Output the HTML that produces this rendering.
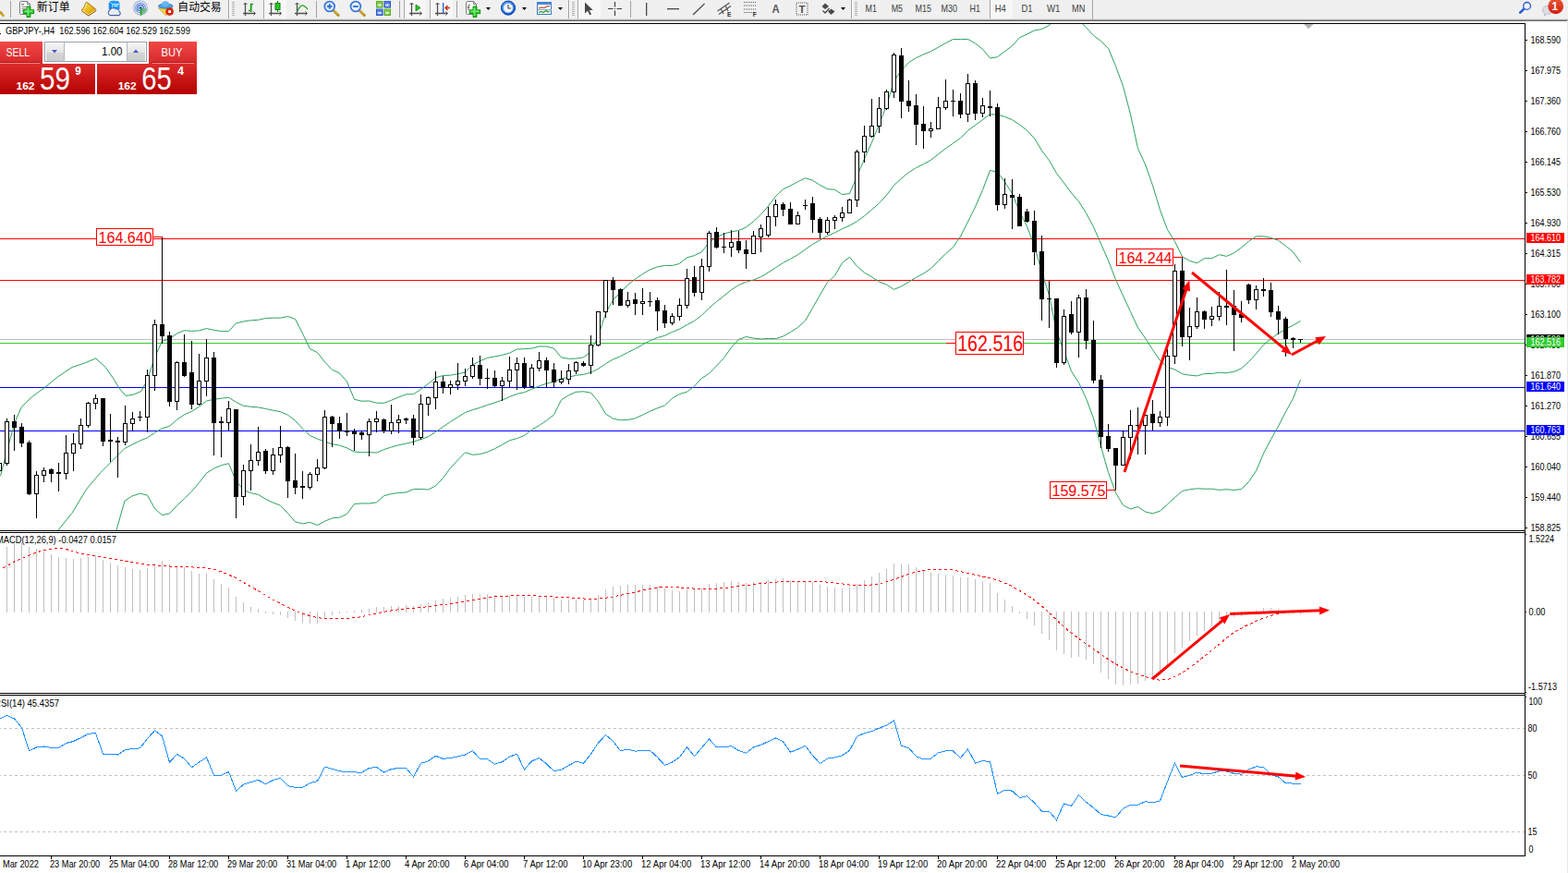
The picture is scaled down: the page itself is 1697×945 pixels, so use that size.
<!DOCTYPE html>
<html><head><meta charset="utf-8"><title>GBPJPY H4</title>
<style>html,body{margin:0;padding:0;background:#fff;overflow:hidden}svg{display:block}text{font-family:"Liberation Sans",sans-serif;white-space:pre}</style>
</head><body>
<svg width="1697" height="945" viewBox="0 0 1697 945">
<defs>
<linearGradient id="gSell" x1="0" y1="0" x2="0" y2="1"><stop offset="0" stop-color="#f04848"/><stop offset="1" stop-color="#d62828"/></linearGradient>
<linearGradient id="gPrice" x1="0" y1="0" x2="0" y2="1"><stop offset="0" stop-color="#dc2c2c"/><stop offset="1" stop-color="#b40000"/></linearGradient>
<linearGradient id="gBtn" x1="0" y1="0" x2="0" y2="1"><stop offset="0" stop-color="#f4f4f4"/><stop offset="0.5" stop-color="#e4e4e4"/><stop offset="0.5" stop-color="#d4d4d4"/><stop offset="1" stop-color="#cfcfcf"/></linearGradient>
<linearGradient id="gBadge" x1="0" y1="0" x2="0" y2="1"><stop offset="0" stop-color="#e8583a"/><stop offset="1" stop-color="#d41c10"/></linearGradient>
<linearGradient id="gGold" x1="0" y1="0" x2="1" y2="1"><stop offset="0" stop-color="#fae670"/><stop offset="0.5" stop-color="#ecbc1c"/><stop offset="1" stop-color="#c08a10"/></linearGradient>
<radialGradient id="gClock" cx="0.4" cy="0.35" r="0.7"><stop offset="0" stop-color="#6ab4ff"/><stop offset="1" stop-color="#0a50c0"/></radialGradient>
</defs>
<rect x="0" y="0" width="1697" height="20" fill="#f0f0f0" />
<rect x="0" y="20" width="1697" height="1" fill="#e3e3e3"/>
<rect x="0" y="21" width="1697" height="1" fill="#a0a0a0"/>
<rect x="0" y="22" width="1697" height="1" fill="#696969"/>
<polygon points="0,12 1.5,12 5,17 3.5,18.5 0,15" fill="#c8a020"/>
<rect x="11" y="1" width="1" height="18" fill="#a0a0a0"/>
<path d="M22.5,1.5 h7 l3,3 v10 a1,1 0 0 1 -1,1 h-9 a1,1 0 0 1 -1,-1 v-12 a1,1 0 0 1 1,-1z" fill="#fff" stroke="#7c7c7c" stroke-width="1"/>
<path d="M29.5,1.5 v3 h3" fill="none" stroke="#7c7c7c" stroke-width="1"/>
<rect x="23" y="4" width="3" height="1.6" fill="#8c8c8c" />
<line x1="23.5" y1="7.5" x2="28.5" y2="7.5" stroke="#8c8c8c" stroke-width="1"/>
<line x1="23.5" y1="9.5" x2="28.5" y2="9.5" stroke="#8c8c8c" stroke-width="1"/>
<line x1="23.5" y1="11.5" x2="28.5" y2="11.5" stroke="#8c8c8c" stroke-width="1"/>
<path d="M29.03333333333333,7 h3.8333333333333335 v3.8333333333333335 h3.8333333333333335 v3.8333333333333335 h-3.8333333333333335 v3.8333333333333335 h-3.8333333333333335 v-3.8333333333333335 h-3.8333333333333335 v-3.8333333333333335 h3.8333333333333335z" fill="#2fd02f" stroke="#0f8f0f" stroke-width="1"/>
<path d="M30.23333333333333,8.5 v8.5 M26.7,12.033333333333333 h8.5" stroke="#7cf07c" stroke-width="1.2" fill="none"/>
<text x="39.7" y="11.9" font-size="12" fill="#000" textLength="36" lengthAdjust="spacingAndGlyphs" style="font-family:'Liberation Sans','Noto Sans CJK SC',sans-serif">新订单</text>
<path d="M93.6,2.2 L103.4,9.8 L103.9,11.4 L95.8,16.8 L88.1,10.8 Q91.6,8.4 91.8,6.2 Q92,4 93.6,2.2z" fill="url(#gGold)" stroke="#a86c10" stroke-width="1" stroke-linejoin="round"/>
<path d="M88.6,11.2 L95.8,16.2 L103.6,11" fill="none" stroke="#f6e49a" stroke-width="1.1"/>
<path d="M88.1,11.6 L95.8,17.1 L104,11.6" fill="none" stroke="#9a600c" stroke-width="1"/>
<path d="M93.8,3.4 Q92.6,5 92.6,6.6 Q92.4,8.6 90.2,10.4" stroke="#fff6b8" stroke-width="0.9" fill="none"/>
<path d="M118.2,2.2 L121.5,1.2 L127.8,1.5 L129,3.2 V10 H118.2z" fill="#18a0ff" stroke="#1080e8" stroke-width="0.8"/>
<path d="M118.2,2.2 L121.6,4.6 H129 M121.6,4.6 V10" fill="none" stroke="#d4efff" stroke-width="1"/>
<path d="M118.6,2.8 L121.2,4.8 V10 H118.6z" fill="#0c8cf0"/>
<rect x="123.3" y="5.8" width="4.4" height="1.1" fill="#f0f8ff" />
<path d="M119.4,16.6 a3,3 0 0 1 -0.6,-5.6 a3.3,3.3 0 0 1 6,-0.7 a2.7,2.7 0 0 1 3.8,1.7 a2.6,2.6 0 0 1 0.4,4.6z" fill="#e8ecf4" stroke="#44619f" stroke-width="1.1"/>
<path d="M119.4,12.8 a2.4,2.4 0 0 1 2,-1.6 a2.8,2.8 0 0 1 4.4,-0.2 a2.2,2.2 0 0 1 2.6,1.2" fill="none" stroke="#ffffff" stroke-width="1"/>
<circle cx="152" cy="8.6" r="7.5" fill="none" stroke="#6a8fd8" stroke-width="1.3" opacity="0.55"/>
<circle cx="152" cy="8.6" r="5.3" fill="none" stroke="#4a74d0" stroke-width="1.3" opacity="0.75"/>
<circle cx="152" cy="8.6" r="3.2" fill="none" stroke="#3060c8" stroke-width="1.3" opacity="0.9"/>
<path d="M152,8.6 L152,16.3 A7.7,7.7 0 0 0 159.6,9.5 z" fill="#58b858" opacity="0.55"/>
<circle cx="152" cy="8.6" r="1.6" fill="#2050c8"/>
<line x1="152.6" y1="9" x2="152.6" y2="16.5" stroke="#22a022" stroke-width="1.6"/>
<polygon points="171.5,8.8 187,8 179.5,16.8" fill="#f6d040" stroke="#c8a018" stroke-width="0.8"/>
<ellipse cx="179.2" cy="6.6" rx="7.8" ry="2.6" fill="#4aa0e0" stroke="#2c78c0" stroke-width="0.8"/>
<ellipse cx="179" cy="4.2" rx="3.8" ry="3" fill="#68b4ee"/>
<circle cx="183.6" cy="12.6" r="4" fill="#e02810" stroke="#b81808" stroke-width="0.6"/>
<rect x="182.2" y="11.2" width="2.8" height="2.8" fill="#fff" />
<text x="192.3" y="11.9" font-size="12" fill="#000" textLength="47.4" lengthAdjust="spacingAndGlyphs" style="font-family:'Liberation Sans','Noto Sans CJK SC',sans-serif">自动交易</text>
<rect x="247" y="0" width="1" height="20" fill="#a0a0a0"/>
<rect x="248" y="0" width="1" height="20" fill="#fff"/>
<rect x="251" y="2" width="3" height="1" fill="#b4b4b4" />
<rect x="251" y="4" width="3" height="1" fill="#b4b4b4" />
<rect x="251" y="6" width="3" height="1" fill="#b4b4b4" />
<rect x="251" y="8" width="3" height="1" fill="#b4b4b4" />
<rect x="251" y="10" width="3" height="1" fill="#b4b4b4" />
<rect x="251" y="12" width="3" height="1" fill="#b4b4b4" />
<rect x="251" y="14" width="3" height="1" fill="#b4b4b4" />
<rect x="251" y="16" width="3" height="1" fill="#b4b4b4" />
<path d="M265.5,3 v14 M263,14.5 h13" stroke="#505050" stroke-width="1.3" fill="none"/>
<path d="M263.5,5 l2,-2 l2,2 M274.5,12.5 l2,2 l-2,2" stroke="#505050" stroke-width="1" fill="none"/>
<path d="M269,11.5 h2.5 v-7 h2.5" stroke="#18a018" stroke-width="1.5" fill="none"/>
<rect x="271" y="4" width="1.5" height="9" fill="#18a018"/>
<rect x="285" y="0" width="1" height="20" fill="#a0a0a0"/>
<rect x="286" y="0" width="24" height="20" fill="#f7f7f7" />
<rect x="285" y="0" width="1" height="20" fill="#a8a8a8"/>
<path d="M293.5,3 v14 M291,14.5 h13" stroke="#505050" stroke-width="1.3" fill="none"/>
<path d="M291.5,5 l2,-2 l2,2 M302.5,12.5 l2,2 l-2,2" stroke="#505050" stroke-width="1" fill="none"/>
<rect x="300" y="1" width="1" height="12" fill="#108010"/>
<rect x="298" y="3.5" width="5" height="7" fill="#28c828" stroke="#108010" />
<path d="M321.5,3 v14 M319,14.5 h13" stroke="#505050" stroke-width="1.3" fill="none"/>
<path d="M319.5,5 l2,-2 l2,2 M330.5,12.5 l2,2 l-2,2" stroke="#505050" stroke-width="1" fill="none"/>
<path d="M322,12 q3,-7 6,-6 t5,4" stroke="#18a018" stroke-width="1.3" fill="none"/>
<rect x="342" y="1" width="1" height="18" fill="#a0a0a0"/>
<line x1="360.7" y1="11" x2="366.2" y2="16.5" stroke="#b89020" stroke-width="3" stroke-linecap="round"/>
<line x1="360.9" y1="10.6" x2="365.7" y2="15.4" stroke="#f0d060" stroke-width="1"/>
<circle cx="356.7" cy="7" r="5.4" fill="#e8f2ff" stroke="#3c78d8" stroke-width="1.8"/>
<line x1="353.9" y1="7" x2="359.5" y2="7" stroke="#2c68d0" stroke-width="1.8"/>
<line x1="356.7" y1="4.2" x2="356.7" y2="9.8" stroke="#2c68d0" stroke-width="1.8"/>
<line x1="388.9" y1="11" x2="394.4" y2="16.5" stroke="#b89020" stroke-width="3" stroke-linecap="round"/>
<line x1="389.09999999999997" y1="10.6" x2="393.9" y2="15.4" stroke="#f0d060" stroke-width="1"/>
<circle cx="384.9" cy="7" r="5.4" fill="#e8f2ff" stroke="#3c78d8" stroke-width="1.8"/>
<line x1="382.09999999999997" y1="7" x2="387.7" y2="7" stroke="#2c68d0" stroke-width="1.8"/>
<rect x="407" y="1" width="7.5" height="7.5" fill="#58b020" />
<rect x="408.5" y="4.2" width="4.5" height="2.6" fill="#fff" />
<rect x="408" y="2" width="5.5" height="1.2" fill="#90d860" />
<rect x="409.3" y="5" width="1" height="1" fill="#58b020" />
<rect x="411.3" y="5" width="1" height="1" fill="#58b020" />
<rect x="415.5" y="1" width="7.5" height="7.5" fill="#2858d0" />
<rect x="417.0" y="4.2" width="4.5" height="2.6" fill="#fff" />
<rect x="416.5" y="2" width="5.5" height="1.2" fill="#6890f0" />
<rect x="417.8" y="5" width="1" height="1" fill="#2858d0" />
<rect x="419.8" y="5" width="1" height="1" fill="#2858d0" />
<rect x="407" y="9.5" width="7.5" height="7.5" fill="#2858d0" />
<rect x="408.5" y="12.7" width="4.5" height="2.6" fill="#fff" />
<rect x="408" y="10.5" width="5.5" height="1.2" fill="#6890f0" />
<rect x="409.3" y="13.5" width="1" height="1" fill="#2858d0" />
<rect x="411.3" y="13.5" width="1" height="1" fill="#2858d0" />
<rect x="415.5" y="9.5" width="7.5" height="7.5" fill="#58b020" />
<rect x="417.0" y="12.7" width="4.5" height="2.6" fill="#fff" />
<rect x="416.5" y="10.5" width="5.5" height="1.2" fill="#90d860" />
<rect x="417.8" y="13.5" width="1" height="1" fill="#58b020" />
<rect x="419.8" y="13.5" width="1" height="1" fill="#58b020" />
<rect x="432" y="1" width="1" height="18" fill="#a0a0a0"/>
<rect x="438" y="0" width="23" height="20" fill="#f7f7f7" />
<rect x="437" y="0" width="1" height="20" fill="#a8a8a8"/>
<path d="M445.5,3 v14 M443,14.5 h13" stroke="#505050" stroke-width="1.3" fill="none"/>
<path d="M443.5,5 l2,-2 l2,2 M454.5,12.5 l2,2 l-2,2" stroke="#505050" stroke-width="1" fill="none"/>
<polygon points="450,5 450,12 455,8.5" fill="#30c030" stroke="#108010" stroke-width="0.8"/>
<rect x="466" y="0" width="24" height="20" fill="#f7f7f7" />
<rect x="465" y="0" width="1" height="20" fill="#a8a8a8"/>
<path d="M473.5,3 v14 M471,14.5 h13" stroke="#505050" stroke-width="1.3" fill="none"/>
<path d="M471.5,5 l2,-2 l2,2 M482.5,12.5 l2,2 l-2,2" stroke="#505050" stroke-width="1" fill="none"/>
<rect x="479" y="3" width="1.3" height="12" fill="#2060c0"/>
<path d="M487,8.5 h-5 M484.5,6 l-2.5,2.5 l2.5,2.5" stroke="#d03010" stroke-width="1.4" fill="none"/>
<rect x="494" y="1" width="1" height="18" fill="#a0a0a0"/>
<path d="M505.5,1.5 h7 l3,3 v10 a1,1 0 0 1 -1,1 h-9 a1,1 0 0 1 -1,-1 v-12 a1,1 0 0 1 1,-1z" fill="#fff" stroke="#7c7c7c" stroke-width="1"/>
<path d="M512.5,1.5 v3 h3" fill="none" stroke="#7c7c7c" stroke-width="1"/>
<path d="M509,5 q-2,0 -2,2 v4 M505.5,8 h3" stroke="#606060" stroke-width="1" fill="none"/>
<path d="M512.0333333333333,7 h3.8333333333333335 v3.8333333333333335 h3.8333333333333335 v3.8333333333333335 h-3.8333333333333335 v3.8333333333333335 h-3.8333333333333335 v-3.8333333333333335 h-3.8333333333333335 v-3.8333333333333335 h3.8333333333333335z" fill="#2fd02f" stroke="#0f8f0f" stroke-width="1"/>
<path d="M513.2333333333333,8.5 v8.5 M509.7,12.033333333333333 h8.5" stroke="#7cf07c" stroke-width="1.2" fill="none"/>
<polygon points="526,8 531,8 528.5,11" fill="#000"/>
<circle cx="550" cy="8.6" r="7.6" fill="url(#gClock)" stroke="#0a48b0" stroke-width="1"/>
<circle cx="550" cy="8.6" r="5.2" fill="#f4f8ff" stroke="#88b0e8" stroke-width="0.8"/>
<path d="M550,5 v4 h3" stroke="#404040" stroke-width="1.1" fill="none"/>
<polygon points="565,8 570,8 567.5,11" fill="#000"/>
<rect x="581.5" y="2.5" width="15" height="13" fill="#f8fbff" stroke="#3c78c8" />
<rect x="581.5" y="2.5" width="15" height="2.5" fill="#4a88d8" />
<path d="M583,9 l3,-1 l3,0.5 l3,-1.5 l3,-0.5" stroke="#c03818" stroke-width="1.2" fill="none"/>
<path d="M583,13.5 l3,-1 l2,1 l3,-2 l2,1.5 l2,-1" stroke="#20a020" stroke-width="1.2" fill="none"/>
<rect x="582" y="10" width="15" height="1" fill="#88a8d8"/>
<polygon points="604,8 609,8 606.5,11" fill="#000"/>
<rect x="615" y="0" width="1" height="20" fill="#a0a0a0"/>
<rect x="616" y="0" width="1" height="20" fill="#fff"/>
<rect x="619" y="2" width="3" height="1" fill="#b4b4b4" />
<rect x="619" y="4" width="3" height="1" fill="#b4b4b4" />
<rect x="619" y="6" width="3" height="1" fill="#b4b4b4" />
<rect x="619" y="8" width="3" height="1" fill="#b4b4b4" />
<rect x="619" y="10" width="3" height="1" fill="#b4b4b4" />
<rect x="619" y="12" width="3" height="1" fill="#b4b4b4" />
<rect x="619" y="14" width="3" height="1" fill="#b4b4b4" />
<rect x="619" y="16" width="3" height="1" fill="#b4b4b4" />
<rect x="626" y="0" width="24" height="20" fill="#f7f7f7" />
<rect x="625" y="0" width="1" height="20" fill="#a8a8a8"/>
<path d="M633,2.5 v12 l3,-2.8 l2.3,4.6 l1.8,-0.9 l-2.3,-4.5 h4z" fill="#484848"/>
<path d="M665.5,2 v5.5 M665.5,11.5 v5.5 M658,9.5 h5.5 M667.5,9.5 h5.5" stroke="#404040" stroke-width="1.2" fill="none"/>
<rect x="665" y="9" width="1" height="1" fill="#404040" />
<rect x="682" y="1" width="1" height="18" fill="#a0a0a0"/>
<rect x="699" y="3" width="1.3" height="14" fill="#484848"/>
<rect x="722" y="9" width="13" height="1.3" fill="#484848"/>
<line x1="750" y1="16" x2="762.5" y2="4" stroke="#505050" stroke-width="1.3"/>
<path d="M776.5,12 l13,-9 M778,15.5 l13,-9 M780,9 l3,6 M785,6 l3,6" stroke="#505050" stroke-width="1.1" fill="none"/>
<text x="787" y="18" font-size="6.5" fill="#303030" font-weight="bold" >E</text>
<line x1="805" y1="2.5" x2="818.5" y2="2.5" stroke="#505050" stroke-width="1" stroke-dasharray="1,1"/>
<line x1="805" y1="6.0" x2="818.5" y2="6.0" stroke="#505050" stroke-width="1" stroke-dasharray="1,1"/>
<line x1="805" y1="10.0" x2="818.5" y2="10.0" stroke="#505050" stroke-width="1" stroke-dasharray="1,1"/>
<line x1="805" y1="13.5" x2="818.5" y2="13.5" stroke="#505050" stroke-width="1" stroke-dasharray="1,1"/>
<text x="814.8" y="18" font-size="6.5" fill="#303030" font-weight="bold" >F</text>
<text x="835.5" y="13.6" font-size="12" fill="#585858" textLength="8.2" lengthAdjust="spacingAndGlyphs" font-weight="bold" >A</text>
<rect x="862" y="3" width="12" height="13" fill="none" stroke="#505050" stroke-width="1" stroke-dasharray="1,1"/>
<text x="864.5" y="13.5" font-size="10.5" fill="#505050" textLength="7" lengthAdjust="spacingAndGlyphs" font-weight="bold" >T</text>
<polygon points="893,3.5 897,7 893,10 889.5,7" fill="#484848"/><polygon points="899.5,9.5 903.5,12.5 899.5,16 896,12.5" fill="#484848"/>
<path d="M890.5,11.5 l2.5,2.5 l4.5,-5" stroke="#484848" stroke-width="1.3" fill="none"/>
<polygon points="910,8 915,8 912.5,11" fill="#000"/>
<rect x="921" y="0" width="1" height="20" fill="#a0a0a0"/>
<rect x="922" y="0" width="1" height="20" fill="#fff"/>
<rect x="925" y="2" width="3" height="1" fill="#b4b4b4" />
<rect x="925" y="4" width="3" height="1" fill="#b4b4b4" />
<rect x="925" y="6" width="3" height="1" fill="#b4b4b4" />
<rect x="925" y="8" width="3" height="1" fill="#b4b4b4" />
<rect x="925" y="10" width="3" height="1" fill="#b4b4b4" />
<rect x="925" y="12" width="3" height="1" fill="#b4b4b4" />
<rect x="925" y="14" width="3" height="1" fill="#b4b4b4" />
<rect x="925" y="16" width="3" height="1" fill="#b4b4b4" />
<rect x="1072" y="0" width="24" height="20" fill="#f7f7f7" />
<rect x="1071" y="0" width="1" height="20" fill="#a8a8a8"/>
<text x="936.6" y="13" font-size="10.2" fill="#404040" textLength="12.4" lengthAdjust="spacingAndGlyphs">M1</text>
<text x="964.7" y="13" font-size="10.2" fill="#404040" textLength="12.4" lengthAdjust="spacingAndGlyphs">M5</text>
<text x="990.5" y="13" font-size="10.2" fill="#404040" textLength="17.5" lengthAdjust="spacingAndGlyphs">M15</text>
<text x="1018.6" y="13" font-size="10.2" fill="#404040" textLength="17.5" lengthAdjust="spacingAndGlyphs">M30</text>
<text x="1049.5" y="13" font-size="10.2" fill="#404040" textLength="11.5" lengthAdjust="spacingAndGlyphs">H1</text>
<text x="1076.7" y="13" font-size="10.2" fill="#404040" textLength="12" lengthAdjust="spacingAndGlyphs">H4</text>
<text x="1105.5" y="13" font-size="10.2" fill="#404040" textLength="12" lengthAdjust="spacingAndGlyphs">D1</text>
<text x="1133" y="13" font-size="10.2" fill="#404040" textLength="14.4" lengthAdjust="spacingAndGlyphs">W1</text>
<text x="1160" y="13" font-size="10.2" fill="#404040" textLength="14.3" lengthAdjust="spacingAndGlyphs">MN</text>
<rect x="1182" y="0" width="1" height="21" fill="#a0a0a0"/>
<line x1="1649.5" y1="9.5" x2="1645.2" y2="13.6" stroke="#2a5ccc" stroke-width="2.6" stroke-linecap="round"/>
<circle cx="1652.6" cy="6.4" r="3.9" fill="#f4f6ff" stroke="#2456d0" stroke-width="1.3"/>
<path d="M1669.5,10 a5.5,4.5 0 1 1 4,5.2 l-2,2.3 l0.3,-2.8 a5,4 0 0 1 -2.3,-4.7z" fill="#dcdce6" stroke="#b4b4c0" stroke-width="0.8"/>
<circle cx="1683.7" cy="6.8" r="8.4" fill="url(#gBadge)"/>
<text x="1679.6" y="11" font-size="12.5" fill="#fff" textLength="6.5" lengthAdjust="spacingAndGlyphs" font-weight="bold" >1</text>
<rect x="0" y="45" width="46" height="24" fill="url(#gSell)" />
<rect x="161" y="45" width="52" height="24" fill="url(#gSell)" />
<rect x="0" y="69" width="103" height="33" fill="url(#gPrice)" />
<rect x="105" y="69" width="108" height="33" fill="url(#gPrice)" />
<rect x="0" y="68" width="43" height="1" fill="#f08080"/>
<rect x="0" y="67" width="43" height="1" fill="#b81818"/>
<rect x="165" y="68" width="45" height="1" fill="#f08080"/>
<rect x="165" y="67" width="45" height="1" fill="#b81818"/>
<rect x="46" y="45" width="115" height="24" fill="#fff" />
<rect x="48.5" y="45.5" width="110" height="21" fill="#fff" stroke="#9aa0ac" stroke-width="1"/>
<rect x="50" y="47" width="19" height="19" fill="url(#gBtn)" />
<rect x="69" y="46" width="1" height="21" fill="#b4b8c0"/>
<rect x="138" y="47" width="19" height="19" fill="url(#gBtn)" />
<rect x="137" y="46" width="1" height="21" fill="#b4b8c0"/>
<polygon points="56,54 62,54 59,57.5" fill="#4858c8"/>
<polygon points="144,57 150,57 147,53.5" fill="#4858c8"/>
<text x="110" y="60" font-size="12.5" fill="#000" textLength="22.5" lengthAdjust="spacingAndGlyphs" >1.00</text>
<text x="6.5" y="61" font-size="12" fill="#fff" textLength="25.5" lengthAdjust="spacingAndGlyphs" >SELL</text>
<text x="174.5" y="61" font-size="12" fill="#fff" textLength="23" lengthAdjust="spacingAndGlyphs" >BUY</text>
<text x="17.5" y="96.5" font-size="11.5" fill="#fff" textLength="20" lengthAdjust="spacingAndGlyphs" font-weight="bold" >162</text>
<text x="43" y="97" font-size="35" fill="#fff" textLength="33" lengthAdjust="spacingAndGlyphs" >59</text>
<text x="81.3" y="81" font-size="12" fill="#fff" textLength="6.5" lengthAdjust="spacingAndGlyphs" font-weight="bold" >9</text>
<text x="127.7" y="96.5" font-size="11.5" fill="#fff" textLength="20" lengthAdjust="spacingAndGlyphs" font-weight="bold" >162</text>
<text x="153.3" y="97" font-size="35" fill="#fff" textLength="32.5" lengthAdjust="spacingAndGlyphs" >65</text>
<text x="192" y="81" font-size="12" fill="#fff" textLength="7" lengthAdjust="spacingAndGlyphs" font-weight="bold" >4</text>
<rect x="1696" y="22" width="1" height="923" fill="#e8e8e8"/>
<clipPath id="cMain"><rect x="0" y="26" width="1650" height="548"/></clipPath>
<clipPath id="cMacd"><rect x="0" y="577" width="1650" height="173"/></clipPath>
<clipPath id="cRsi"><rect x="0" y="753" width="1650" height="173"/></clipPath>
<g clip-path="url(#cMain)">
<rect x="0" y="258" width="1650" height="1" fill="#ff0000"/>
<rect x="0" y="303" width="1650" height="1" fill="#ff0000"/>
<rect x="0" y="367" width="1650" height="1" fill="#c0c0c0"/>
<rect x="0" y="371" width="1650" height="1" fill="#32cd32"/>
<rect x="0" y="419" width="1650" height="1" fill="#0000ff"/>
<rect x="0" y="466" width="1650" height="1" fill="#0000ff"/>
<polyline fill="none" stroke="#2aa25c" stroke-width="1" points="0.5,515.2 8.2,485.5 16,457.1 23.5,440.3 34.1,430 48.3,419.5 62.5,408 78,397.5 90.9,393.3 103.8,387.9 114.2,397.5 123.2,410.5 129.5,420.9 136.1,428.5 145.2,426.9 152.9,423.5 159.5,411.3 167.5,386.4 175.5,369.4 183.5,366.6 191.5,361.1 199.5,357.7 207.5,358.4 215.5,357.9 223.5,355.6 231.5,357.4 239.5,358.5 247.5,358.7 255.5,349.9 263.5,348 271.5,346.8 279.5,346.3 287.5,344.5 295.5,344.1 303.5,344.2 311.5,342.5 319.5,345.4 327.5,361 335.5,377.5 343.5,381.6 351.5,391.8 359.5,400.3 367.5,404 375.5,413.2 383.5,432.3 391.5,434.2 399.5,434 407.5,436.2 415.5,436.3 423.5,433.3 431.5,429.9 439.5,426.9 447.5,426.7 455.5,421.4 463.5,415.4 471.5,408.8 479.5,406.5 487.5,406.2 495.5,404.7 503.5,403.1 511.5,394.9 519.5,390.7 527.5,387.4 535.5,385.9 543.5,384.4 551.5,382.1 559.5,378 567.5,377.7 575.5,377.1 583.5,375 591.5,375 599.5,377.2 607.5,386.9 615.5,388.4 623.5,388.1 631.5,386.8 639.5,380.8 647.5,363.5 655.5,339.2 663.5,324.6 671.5,316.5 679.5,308.4 687.5,302 695.5,296.6 703.5,291.9 711.5,288.9 719.5,287.4 727.5,287.5 735.5,285.3 743.5,278.8 751.5,276.6 759.5,272.7 767.5,262 775.5,256.9 783.5,252.9 791.5,251 799.5,249.4 807.5,246 815.5,239.7 823.5,232.1 831.5,223.1 839.5,212.5 847.5,204.8 855.5,201 863.5,196.7 871.5,192.8 879.5,195.2 887.5,200.4 895.5,204.7 903.5,205.3 911.5,210.6 919.5,209.6 927.5,190.9 935.5,172 943.5,154.2 951.5,134.5 959.5,114.4 967.5,87.5 975.5,76.4 983.5,67.7 991.5,62.7 999.5,58.9 1007.5,55.6 1015.5,51.2 1023.5,46.6 1031.5,42.5 1039.5,42.6 1047.5,42.4 1055.5,46.9 1063.5,53.2 1071.5,63 1079.5,61.7 1087.5,55.5 1095.5,49.6 1103.5,40.7 1111.5,37 1119.5,33 1127.5,31.5 1135.5,27.4 1143.5,16 1151.5,15.7 1159.5,15.8 1167.5,21.7 1175.5,29.8 1183.5,38.4 1191.5,44.4 1199.5,52.4 1207.5,71.6 1215.5,93.4 1223.5,123.8 1231.5,160.6 1239.5,178 1247.5,200.8 1255.5,227.3 1263.5,248.7 1271.5,261.4 1279.5,277.7 1287.5,282.4 1295.5,284.8 1303.5,279.7 1311.5,279.7 1319.5,275.7 1327.5,277.4 1335.5,273.8 1343.5,268 1351.5,261.2 1359.5,255.8 1367.5,255.8 1375.5,257.4 1383.5,260.2 1391.5,266.3 1399.5,272.7 1407.5,283.9"/>
<polyline fill="none" stroke="#2aa25c" stroke-width="1" points="62.5,574.5 78,555.3 93.5,529.5 109,511.4 121.9,498.5 134.9,485.5 150.5,477.5 159.5,473.8 167.5,468.5 175.5,463.6 183.5,461.3 191.5,454.3 199.5,448.9 207.5,445.3 215.5,440.3 223.5,434 231.5,432.3 239.5,431.2 247.5,430.3 255.5,435.3 263.5,439.3 271.5,440.3 279.5,440.9 287.5,442.5 295.5,444.2 303.5,445.7 311.5,449.2 319.5,455.3 327.5,464.1 335.5,471.5 343.5,475.1 351.5,478.1 359.5,480.7 367.5,482.1 375.5,484.9 383.5,489 391.5,489.7 399.5,489.6 407.5,490.1 415.5,486.6 423.5,484 431.5,481.8 439.5,480.1 447.5,478.3 455.5,475.5 463.5,472.8 471.5,467.5 479.5,462.1 487.5,456.5 495.5,451.5 503.5,446.5 511.5,443.7 519.5,441.3 527.5,438.4 535.5,435.9 543.5,433.1 551.5,429.5 559.5,426.4 567.5,424.7 575.5,421.3 583.5,417.9 591.5,415.2 599.5,413.1 607.5,410 615.5,408.2 623.5,406.3 631.5,405.4 639.5,403.1 647.5,399.2 655.5,393.7 663.5,389 671.5,385.7 679.5,381.5 687.5,377.5 695.5,373 703.5,368.7 711.5,365.5 719.5,363.3 727.5,359.5 735.5,356.1 743.5,351.6 751.5,347.4 759.5,341.2 767.5,333.3 775.5,326.5 783.5,320.3 791.5,313.7 799.5,308.5 807.5,305.3 815.5,303 823.5,299.7 831.5,294.9 839.5,289.7 847.5,284.5 855.5,280.3 863.5,275.7 871.5,270 879.5,264.4 887.5,259.9 895.5,255.3 903.5,251.9 911.5,247.7 919.5,244.1 927.5,239.7 935.5,233.7 943.5,227.1 951.5,219.9 959.5,211.3 967.5,200.5 975.5,193.3 983.5,186.6 991.5,181.6 999.5,177.6 1007.5,173.3 1015.5,166.9 1023.5,160.7 1031.5,155.1 1039.5,149.4 1047.5,141.3 1055.5,135.5 1063.5,129.5 1071.5,123.8 1079.5,124.1 1087.5,126.3 1095.5,129.7 1103.5,135 1111.5,141.1 1119.5,149.8 1127.5,163 1135.5,173.7 1143.5,187.6 1151.5,198 1159.5,208.9 1167.5,218.1 1175.5,230.7 1183.5,245.7 1191.5,263.9 1199.5,282 1207.5,302.7 1215.5,320.2 1223.5,337.5 1231.5,354.7 1239.5,366.1 1247.5,378.5 1255.5,390.3 1263.5,397.4 1271.5,400.1 1279.5,404.7 1287.5,406.2 1295.5,406.9 1303.5,404.5 1311.5,404.5 1319.5,403.2 1327.5,403.7 1335.5,402.3 1343.5,398.9 1351.5,391.5 1359.5,382.9 1367.5,373.4 1375.5,366.6 1383.5,360.9 1391.5,356.2 1399.5,352.1 1407.5,347.5"/>
<polyline fill="none" stroke="#2aa25c" stroke-width="1" points="125.8,574.5 134.9,542.4 142.5,537.2 151.5,534.1 159.5,536.1 167.5,550.5 175.5,557.6 183.5,555.9 191.5,547.2 199.5,539.8 207.5,531.9 215.5,522.4 223.5,512.2 231.5,507.1 239.5,503.7 247.5,501.7 255.5,520.6 263.5,530.3 271.5,533.6 279.5,535.4 287.5,540.3 295.5,544.1 303.5,547.1 311.5,555.7 319.5,564.9 327.5,566.9 335.5,565.4 343.5,568.5 351.5,564.2 359.5,560.9 367.5,560.1 375.5,556.4 383.5,545.5 391.5,544.9 399.5,545 407.5,543.9 415.5,536.7 423.5,534.5 431.5,533.5 439.5,533 447.5,529.6 455.5,529.4 463.5,530 471.5,525.9 479.5,517.4 487.5,506.6 495.5,498 503.5,489.7 511.5,492.3 519.5,491.6 527.5,489.2 535.5,485.7 543.5,481.5 551.5,476.8 559.5,474.6 567.5,471.4 575.5,465.2 583.5,460.6 591.5,455.2 599.5,448.9 607.5,432.9 615.5,427.8 623.5,424.3 631.5,423.8 639.5,425.2 647.5,434.6 655.5,448 663.5,453.2 671.5,454.8 679.5,454.5 687.5,452.8 695.5,449.1 703.5,445.2 711.5,441.8 719.5,438.9 727.5,431.2 735.5,426.6 743.5,424.2 751.5,418 759.5,409.4 767.5,404.3 775.5,396 783.5,387.5 791.5,376.1 799.5,367.4 807.5,364.5 815.5,366 823.5,367 831.5,366.4 839.5,366.6 847.5,364.1 855.5,359.5 863.5,354.5 871.5,347 879.5,333.4 887.5,319.1 895.5,305.6 903.5,298.4 911.5,284.5 919.5,278.3 927.5,288.2 935.5,295.1 943.5,299.8 951.5,305 959.5,308 967.5,313.4 975.5,309.9 983.5,305.3 991.5,300.3 999.5,296.1 1007.5,290.7 1015.5,282.5 1023.5,274.7 1031.5,267.5 1039.5,256 1047.5,240.1 1055.5,224 1063.5,205.6 1071.5,184.4 1079.5,186.2 1087.5,197 1095.5,209.5 1103.5,229.2 1111.5,245.1 1119.5,266.4 1127.5,294.3 1135.5,319.8 1143.5,359 1151.5,380.1 1159.5,401.8 1167.5,414.2 1175.5,431.3 1183.5,452.9 1191.5,483.2 1199.5,511.4 1207.5,533.5 1215.5,546.8 1223.5,551 1231.5,548.6 1239.5,554 1247.5,555.9 1255.5,553.2 1263.5,545.9 1271.5,538.6 1279.5,531.5 1287.5,529.8 1295.5,528.8 1303.5,529.2 1311.5,529.2 1319.5,530.4 1327.5,529.7 1335.5,530.5 1343.5,529.5 1351.5,521.5 1359.5,509.7 1367.5,490.8 1375.5,475.6 1383.5,461.3 1391.5,445.8 1399.5,431.2 1407.5,411"/>
<rect x="-3" y="501" width="5" height="9" fill="#000" />
<rect x="-2" y="502" width="3" height="7" fill="#fff" />
<rect x="7" y="453" width="1" height="51" fill="#000"/>
<rect x="5" y="456" width="5" height="46" fill="#000" />
<rect x="6" y="457" width="3" height="44" fill="#fff" />
<rect x="15" y="449" width="1" height="39" fill="#000"/>
<rect x="13" y="456" width="5" height="7" fill="#000" />
<rect x="23" y="458" width="1" height="26" fill="#000"/>
<rect x="21" y="462" width="5" height="18" fill="#000" />
<rect x="31" y="477" width="1" height="59" fill="#000"/>
<rect x="29" y="479" width="5" height="56" fill="#000" />
<rect x="39" y="510" width="1" height="51" fill="#000"/>
<rect x="37" y="514" width="5" height="21" fill="#000" />
<rect x="38" y="515" width="3" height="19" fill="#fff" />
<rect x="47" y="506" width="1" height="16" fill="#000"/>
<rect x="45" y="509" width="5" height="6" fill="#000" />
<rect x="46" y="510" width="3" height="4" fill="#fff" />
<rect x="55" y="507" width="1" height="15" fill="#000"/>
<rect x="53" y="508" width="5" height="5" fill="#000" />
<rect x="63" y="501" width="1" height="31" fill="#000"/>
<rect x="61" y="511" width="5" height="2" fill="#000" />
<rect x="71" y="471" width="1" height="48" fill="#000"/>
<rect x="69" y="490" width="5" height="23" fill="#000" />
<rect x="70" y="491" width="3" height="21" fill="#fff" />
<rect x="79" y="469" width="1" height="41" fill="#000"/>
<rect x="77" y="480" width="5" height="11" fill="#000" />
<rect x="78" y="481" width="3" height="9" fill="#fff" />
<rect x="87" y="453" width="1" height="33" fill="#000"/>
<rect x="85" y="460" width="5" height="21" fill="#000" />
<rect x="86" y="461" width="3" height="19" fill="#fff" />
<rect x="95" y="435" width="1" height="28" fill="#000"/>
<rect x="93" y="436" width="5" height="25" fill="#000" />
<rect x="94" y="437" width="3" height="23" fill="#fff" />
<rect x="103" y="427" width="1" height="16" fill="#000"/>
<rect x="101" y="431" width="5" height="6" fill="#000" />
<rect x="102" y="432" width="3" height="4" fill="#fff" />
<rect x="111" y="431" width="1" height="52" fill="#000"/>
<rect x="109" y="431" width="5" height="47" fill="#000" />
<rect x="119" y="448" width="1" height="52" fill="#000"/>
<rect x="117" y="476" width="5" height="2" fill="#000" />
<rect x="127" y="473" width="1" height="44" fill="#000"/>
<rect x="125" y="477" width="5" height="2" fill="#000" />
<rect x="135" y="439" width="1" height="43" fill="#000"/>
<rect x="133" y="458" width="5" height="21" fill="#000" />
<rect x="134" y="459" width="3" height="19" fill="#fff" />
<rect x="143" y="446" width="1" height="21" fill="#000"/>
<rect x="141" y="453" width="5" height="6" fill="#000" />
<rect x="142" y="454" width="3" height="4" fill="#fff" />
<rect x="151" y="445" width="1" height="11" fill="#000"/>
<rect x="149" y="451" width="5" height="1" fill="#000" />
<rect x="159" y="400" width="1" height="68" fill="#000"/>
<rect x="157" y="406" width="5" height="46" fill="#000" />
<rect x="158" y="407" width="3" height="44" fill="#fff" />
<rect x="167" y="346" width="1" height="77" fill="#000"/>
<rect x="165" y="351" width="5" height="56" fill="#000" />
<rect x="166" y="352" width="3" height="54" fill="#fff" />
<rect x="175" y="257" width="1" height="115" fill="#000"/>
<rect x="173" y="351" width="5" height="13" fill="#000" />
<rect x="183" y="359" width="1" height="81" fill="#000"/>
<rect x="181" y="363" width="5" height="72" fill="#000" />
<rect x="191" y="391" width="1" height="53" fill="#000"/>
<rect x="189" y="392" width="5" height="43" fill="#000" />
<rect x="190" y="393" width="3" height="41" fill="#fff" />
<rect x="199" y="362" width="1" height="46" fill="#000"/>
<rect x="197" y="392" width="5" height="15" fill="#000" />
<rect x="207" y="369" width="1" height="74" fill="#000"/>
<rect x="205" y="403" width="5" height="35" fill="#000" />
<rect x="215" y="383" width="1" height="56" fill="#000"/>
<rect x="213" y="412" width="5" height="26" fill="#000" />
<rect x="214" y="413" width="3" height="24" fill="#fff" />
<rect x="223" y="367" width="1" height="62" fill="#000"/>
<rect x="221" y="387" width="5" height="26" fill="#000" />
<rect x="222" y="388" width="3" height="24" fill="#fff" />
<rect x="231" y="381" width="1" height="112" fill="#000"/>
<rect x="229" y="387" width="5" height="71" fill="#000" />
<rect x="239" y="451" width="1" height="44" fill="#000"/>
<rect x="237" y="456" width="5" height="2" fill="#000" />
<rect x="247" y="434" width="1" height="32" fill="#000"/>
<rect x="245" y="442" width="5" height="16" fill="#000" />
<rect x="246" y="443" width="3" height="14" fill="#fff" />
<rect x="255" y="443" width="1" height="118" fill="#000"/>
<rect x="253" y="443" width="5" height="95" fill="#000" />
<rect x="263" y="503" width="1" height="44" fill="#000"/>
<rect x="261" y="509" width="5" height="29" fill="#000" />
<rect x="262" y="510" width="3" height="27" fill="#fff" />
<rect x="271" y="481" width="1" height="50" fill="#000"/>
<rect x="269" y="498" width="5" height="12" fill="#000" />
<rect x="270" y="499" width="3" height="10" fill="#fff" />
<rect x="279" y="462" width="1" height="42" fill="#000"/>
<rect x="277" y="489" width="5" height="10" fill="#000" />
<rect x="278" y="490" width="3" height="8" fill="#fff" />
<rect x="287" y="486" width="1" height="27" fill="#000"/>
<rect x="285" y="488" width="5" height="22" fill="#000" />
<rect x="295" y="485" width="1" height="29" fill="#000"/>
<rect x="293" y="492" width="5" height="18" fill="#000" />
<rect x="294" y="493" width="3" height="16" fill="#fff" />
<rect x="303" y="461" width="1" height="40" fill="#000"/>
<rect x="301" y="484" width="5" height="9" fill="#000" />
<rect x="302" y="485" width="3" height="7" fill="#fff" />
<rect x="311" y="483" width="1" height="56" fill="#000"/>
<rect x="309" y="484" width="5" height="37" fill="#000" />
<rect x="319" y="491" width="1" height="44" fill="#000"/>
<rect x="317" y="520" width="5" height="8" fill="#000" />
<rect x="327" y="510" width="1" height="30" fill="#000"/>
<rect x="325" y="526" width="5" height="2" fill="#000" />
<rect x="335" y="511" width="1" height="19" fill="#000"/>
<rect x="333" y="513" width="5" height="15" fill="#000" />
<rect x="334" y="514" width="3" height="13" fill="#fff" />
<rect x="343" y="497" width="1" height="24" fill="#000"/>
<rect x="341" y="506" width="5" height="8" fill="#000" />
<rect x="342" y="507" width="3" height="6" fill="#fff" />
<rect x="351" y="444" width="1" height="64" fill="#000"/>
<rect x="349" y="451" width="5" height="56" fill="#000" />
<rect x="350" y="452" width="3" height="54" fill="#fff" />
<rect x="359" y="450" width="1" height="34" fill="#000"/>
<rect x="357" y="451" width="5" height="8" fill="#000" />
<rect x="367" y="451" width="1" height="24" fill="#000"/>
<rect x="365" y="458" width="5" height="9" fill="#000" />
<rect x="375" y="447" width="1" height="25" fill="#000"/>
<rect x="373" y="466" width="5" height="2" fill="#000" />
<rect x="383" y="464" width="1" height="24" fill="#000"/>
<rect x="381" y="467" width="5" height="3" fill="#000" />
<rect x="391" y="467" width="1" height="9" fill="#000"/>
<rect x="389" y="468" width="5" height="3" fill="#000" />
<rect x="399" y="453" width="1" height="41" fill="#000"/>
<rect x="397" y="456" width="5" height="15" fill="#000" />
<rect x="398" y="457" width="3" height="13" fill="#fff" />
<rect x="407" y="445" width="1" height="23" fill="#000"/>
<rect x="405" y="453" width="5" height="4" fill="#000" />
<rect x="406" y="454" width="3" height="2" fill="#fff" />
<rect x="415" y="453" width="1" height="16" fill="#000"/>
<rect x="413" y="454" width="5" height="13" fill="#000" />
<rect x="423" y="438" width="1" height="32" fill="#000"/>
<rect x="421" y="457" width="5" height="10" fill="#000" />
<rect x="422" y="458" width="3" height="8" fill="#fff" />
<rect x="431" y="449" width="1" height="20" fill="#000"/>
<rect x="429" y="454" width="5" height="4" fill="#000" />
<rect x="430" y="455" width="3" height="2" fill="#fff" />
<rect x="439" y="452" width="1" height="7" fill="#000"/>
<rect x="437" y="453" width="5" height="2" fill="#000" />
<rect x="447" y="449" width="1" height="33" fill="#000"/>
<rect x="445" y="453" width="5" height="21" fill="#000" />
<rect x="455" y="427" width="1" height="49" fill="#000"/>
<rect x="453" y="437" width="5" height="37" fill="#000" />
<rect x="454" y="438" width="3" height="35" fill="#fff" />
<rect x="463" y="429" width="1" height="21" fill="#000"/>
<rect x="461" y="430" width="5" height="8" fill="#000" />
<rect x="462" y="431" width="3" height="6" fill="#fff" />
<rect x="471" y="402" width="1" height="41" fill="#000"/>
<rect x="469" y="413" width="5" height="18" fill="#000" />
<rect x="470" y="414" width="3" height="16" fill="#fff" />
<rect x="479" y="407" width="1" height="19" fill="#000"/>
<rect x="477" y="413" width="5" height="7" fill="#000" />
<rect x="487" y="412" width="1" height="15" fill="#000"/>
<rect x="485" y="416" width="5" height="4" fill="#000" />
<rect x="486" y="417" width="3" height="2" fill="#fff" />
<rect x="495" y="393" width="1" height="29" fill="#000"/>
<rect x="493" y="412" width="5" height="5" fill="#000" />
<rect x="494" y="413" width="3" height="3" fill="#fff" />
<rect x="503" y="399" width="1" height="19" fill="#000"/>
<rect x="501" y="407" width="5" height="6" fill="#000" />
<rect x="502" y="408" width="3" height="4" fill="#fff" />
<rect x="511" y="387" width="1" height="23" fill="#000"/>
<rect x="509" y="395" width="5" height="13" fill="#000" />
<rect x="510" y="396" width="3" height="11" fill="#fff" />
<rect x="519" y="385" width="1" height="32" fill="#000"/>
<rect x="517" y="395" width="5" height="15" fill="#000" />
<rect x="527" y="399" width="1" height="22" fill="#000"/>
<rect x="525" y="409" width="5" height="1" fill="#000" />
<rect x="535" y="401" width="1" height="18" fill="#000"/>
<rect x="533" y="409" width="5" height="9" fill="#000" />
<rect x="543" y="408" width="1" height="26" fill="#000"/>
<rect x="541" y="412" width="5" height="6" fill="#000" />
<rect x="542" y="413" width="3" height="4" fill="#fff" />
<rect x="551" y="386" width="1" height="33" fill="#000"/>
<rect x="549" y="400" width="5" height="13" fill="#000" />
<rect x="550" y="401" width="3" height="11" fill="#fff" />
<rect x="559" y="387" width="1" height="35" fill="#000"/>
<rect x="557" y="393" width="5" height="8" fill="#000" />
<rect x="558" y="394" width="3" height="6" fill="#fff" />
<rect x="567" y="387" width="1" height="34" fill="#000"/>
<rect x="565" y="393" width="5" height="26" fill="#000" />
<rect x="575" y="394" width="1" height="25" fill="#000"/>
<rect x="573" y="398" width="5" height="21" fill="#000" />
<rect x="574" y="399" width="3" height="19" fill="#fff" />
<rect x="583" y="381" width="1" height="21" fill="#000"/>
<rect x="581" y="390" width="5" height="9" fill="#000" />
<rect x="582" y="391" width="3" height="7" fill="#fff" />
<rect x="591" y="387" width="1" height="32" fill="#000"/>
<rect x="589" y="390" width="5" height="11" fill="#000" />
<rect x="599" y="393" width="1" height="26" fill="#000"/>
<rect x="597" y="400" width="5" height="14" fill="#000" />
<rect x="607" y="401" width="1" height="15" fill="#000"/>
<rect x="605" y="410" width="5" height="4" fill="#000" />
<rect x="606" y="411" width="3" height="2" fill="#fff" />
<rect x="615" y="394" width="1" height="22" fill="#000"/>
<rect x="613" y="401" width="5" height="10" fill="#000" />
<rect x="614" y="402" width="3" height="8" fill="#fff" />
<rect x="623" y="391" width="1" height="14" fill="#000"/>
<rect x="621" y="392" width="5" height="10" fill="#000" />
<rect x="622" y="393" width="3" height="8" fill="#fff" />
<rect x="631" y="391" width="1" height="6" fill="#000"/>
<rect x="629" y="393" width="5" height="3" fill="#000" />
<rect x="639" y="363" width="1" height="42" fill="#000"/>
<rect x="637" y="373" width="5" height="23" fill="#000" />
<rect x="638" y="374" width="3" height="21" fill="#fff" />
<rect x="647" y="337" width="1" height="38" fill="#000"/>
<rect x="645" y="337" width="5" height="37" fill="#000" />
<rect x="646" y="338" width="3" height="35" fill="#fff" />
<rect x="655" y="303" width="1" height="41" fill="#000"/>
<rect x="653" y="303" width="5" height="35" fill="#000" />
<rect x="654" y="304" width="3" height="33" fill="#fff" />
<rect x="663" y="300" width="1" height="30" fill="#000"/>
<rect x="661" y="303" width="5" height="11" fill="#000" />
<rect x="671" y="312" width="1" height="19" fill="#000"/>
<rect x="669" y="313" width="5" height="18" fill="#000" />
<rect x="679" y="316" width="1" height="17" fill="#000"/>
<rect x="677" y="325" width="5" height="6" fill="#000" />
<rect x="678" y="326" width="3" height="4" fill="#fff" />
<rect x="687" y="317" width="1" height="24" fill="#000"/>
<rect x="685" y="324" width="5" height="5" fill="#000" />
<rect x="695" y="312" width="1" height="29" fill="#000"/>
<rect x="693" y="326" width="5" height="3" fill="#000" />
<rect x="694" y="327" width="3" height="1" fill="#fff" />
<rect x="703" y="316" width="1" height="16" fill="#000"/>
<rect x="701" y="326" width="5" height="1" fill="#000" />
<rect x="711" y="322" width="1" height="36" fill="#000"/>
<rect x="709" y="325" width="5" height="12" fill="#000" />
<rect x="719" y="330" width="1" height="25" fill="#000"/>
<rect x="717" y="336" width="5" height="14" fill="#000" />
<rect x="727" y="339" width="1" height="13" fill="#000"/>
<rect x="725" y="342" width="5" height="8" fill="#000" />
<rect x="726" y="343" width="3" height="6" fill="#fff" />
<rect x="735" y="323" width="1" height="24" fill="#000"/>
<rect x="733" y="330" width="5" height="13" fill="#000" />
<rect x="734" y="331" width="3" height="11" fill="#fff" />
<rect x="743" y="291" width="1" height="43" fill="#000"/>
<rect x="741" y="301" width="5" height="30" fill="#000" />
<rect x="742" y="302" width="3" height="28" fill="#fff" />
<rect x="751" y="288" width="1" height="33" fill="#000"/>
<rect x="749" y="300" width="5" height="17" fill="#000" />
<rect x="759" y="280" width="1" height="45" fill="#000"/>
<rect x="757" y="288" width="5" height="29" fill="#000" />
<rect x="758" y="289" width="3" height="27" fill="#fff" />
<rect x="767" y="250" width="1" height="44" fill="#000"/>
<rect x="765" y="252" width="5" height="37" fill="#000" />
<rect x="766" y="253" width="3" height="35" fill="#fff" />
<rect x="775" y="246" width="1" height="23" fill="#000"/>
<rect x="773" y="251" width="5" height="17" fill="#000" />
<rect x="783" y="252" width="1" height="22" fill="#000"/>
<rect x="781" y="267" width="5" height="1" fill="#000" />
<rect x="791" y="249" width="1" height="29" fill="#000"/>
<rect x="789" y="262" width="5" height="6" fill="#000" />
<rect x="790" y="263" width="3" height="4" fill="#fff" />
<rect x="799" y="250" width="1" height="24" fill="#000"/>
<rect x="797" y="261" width="5" height="10" fill="#000" />
<rect x="807" y="260" width="1" height="31" fill="#000"/>
<rect x="805" y="270" width="5" height="5" fill="#000" />
<rect x="815" y="250" width="1" height="25" fill="#000"/>
<rect x="813" y="255" width="5" height="20" fill="#000" />
<rect x="814" y="256" width="3" height="18" fill="#fff" />
<rect x="823" y="243" width="1" height="30" fill="#000"/>
<rect x="821" y="247" width="5" height="10" fill="#000" />
<rect x="822" y="248" width="3" height="8" fill="#fff" />
<rect x="831" y="224" width="1" height="33" fill="#000"/>
<rect x="829" y="234" width="5" height="21" fill="#000" />
<rect x="830" y="235" width="3" height="19" fill="#fff" />
<rect x="839" y="216" width="1" height="29" fill="#000"/>
<rect x="837" y="221" width="5" height="14" fill="#000" />
<rect x="838" y="222" width="3" height="12" fill="#fff" />
<rect x="847" y="219" width="1" height="15" fill="#000"/>
<rect x="845" y="221" width="5" height="6" fill="#000" />
<rect x="855" y="219" width="1" height="24" fill="#000"/>
<rect x="853" y="226" width="5" height="17" fill="#000" />
<rect x="863" y="229" width="1" height="14" fill="#000"/>
<rect x="861" y="233" width="5" height="10" fill="#000" />
<rect x="862" y="234" width="3" height="8" fill="#fff" />
<rect x="871" y="216" width="1" height="11" fill="#000"/>
<rect x="869" y="222" width="5" height="1" fill="#000" />
<rect x="879" y="213" width="1" height="39" fill="#000"/>
<rect x="877" y="220" width="5" height="18" fill="#000" />
<rect x="887" y="235" width="1" height="23" fill="#000"/>
<rect x="885" y="237" width="5" height="15" fill="#000" />
<rect x="895" y="235" width="1" height="19" fill="#000"/>
<rect x="893" y="238" width="5" height="14" fill="#000" />
<rect x="894" y="239" width="3" height="12" fill="#fff" />
<rect x="903" y="233" width="1" height="15" fill="#000"/>
<rect x="901" y="235" width="5" height="4" fill="#000" />
<rect x="902" y="236" width="3" height="2" fill="#fff" />
<rect x="911" y="224" width="1" height="16" fill="#000"/>
<rect x="909" y="230" width="5" height="6" fill="#000" />
<rect x="910" y="231" width="3" height="4" fill="#fff" />
<rect x="919" y="215" width="1" height="16" fill="#000"/>
<rect x="917" y="216" width="5" height="15" fill="#000" />
<rect x="918" y="217" width="3" height="13" fill="#fff" />
<rect x="927" y="162" width="1" height="62" fill="#000"/>
<rect x="925" y="164" width="5" height="53" fill="#000" />
<rect x="926" y="165" width="3" height="51" fill="#fff" />
<rect x="935" y="136" width="1" height="40" fill="#000"/>
<rect x="933" y="147" width="5" height="18" fill="#000" />
<rect x="934" y="148" width="3" height="16" fill="#fff" />
<rect x="943" y="107" width="1" height="42" fill="#000"/>
<rect x="941" y="136" width="5" height="12" fill="#000" />
<rect x="942" y="137" width="3" height="10" fill="#fff" />
<rect x="951" y="105" width="1" height="39" fill="#000"/>
<rect x="949" y="117" width="5" height="20" fill="#000" />
<rect x="950" y="118" width="3" height="18" fill="#fff" />
<rect x="959" y="97" width="1" height="22" fill="#000"/>
<rect x="957" y="99" width="5" height="19" fill="#000" />
<rect x="958" y="100" width="3" height="17" fill="#fff" />
<rect x="967" y="57" width="1" height="49" fill="#000"/>
<rect x="965" y="59" width="5" height="41" fill="#000" />
<rect x="966" y="60" width="3" height="39" fill="#fff" />
<rect x="975" y="52" width="1" height="76" fill="#000"/>
<rect x="973" y="60" width="5" height="50" fill="#000" />
<rect x="983" y="87" width="1" height="34" fill="#000"/>
<rect x="981" y="109" width="5" height="6" fill="#000" />
<rect x="991" y="102" width="1" height="55" fill="#000"/>
<rect x="989" y="114" width="5" height="21" fill="#000" />
<rect x="999" y="115" width="1" height="46" fill="#000"/>
<rect x="997" y="134" width="5" height="8" fill="#000" />
<rect x="1007" y="132" width="1" height="17" fill="#000"/>
<rect x="1005" y="139" width="5" height="3" fill="#000" />
<rect x="1006" y="140" width="3" height="1" fill="#fff" />
<rect x="1015" y="105" width="1" height="35" fill="#000"/>
<rect x="1013" y="116" width="5" height="24" fill="#000" />
<rect x="1014" y="117" width="3" height="22" fill="#fff" />
<rect x="1023" y="86" width="1" height="33" fill="#000"/>
<rect x="1021" y="109" width="5" height="8" fill="#000" />
<rect x="1022" y="110" width="3" height="6" fill="#fff" />
<rect x="1031" y="97" width="1" height="29" fill="#000"/>
<rect x="1029" y="109" width="5" height="1" fill="#000" />
<rect x="1039" y="101" width="1" height="27" fill="#000"/>
<rect x="1037" y="109" width="5" height="15" fill="#000" />
<rect x="1047" y="80" width="1" height="52" fill="#000"/>
<rect x="1045" y="90" width="5" height="34" fill="#000" />
<rect x="1046" y="91" width="3" height="32" fill="#fff" />
<rect x="1055" y="87" width="1" height="43" fill="#000"/>
<rect x="1053" y="90" width="5" height="33" fill="#000" />
<rect x="1063" y="106" width="1" height="21" fill="#000"/>
<rect x="1061" y="114" width="5" height="9" fill="#000" />
<rect x="1062" y="115" width="3" height="7" fill="#fff" />
<rect x="1071" y="98" width="1" height="28" fill="#000"/>
<rect x="1069" y="115" width="5" height="2" fill="#000" />
<rect x="1079" y="112" width="1" height="116" fill="#000"/>
<rect x="1077" y="116" width="5" height="106" fill="#000" />
<rect x="1087" y="193" width="1" height="33" fill="#000"/>
<rect x="1085" y="210" width="5" height="12" fill="#000" />
<rect x="1086" y="211" width="3" height="10" fill="#fff" />
<rect x="1095" y="194" width="1" height="54" fill="#000"/>
<rect x="1093" y="211" width="5" height="3" fill="#000" />
<rect x="1103" y="210" width="1" height="35" fill="#000"/>
<rect x="1101" y="213" width="5" height="32" fill="#000" />
<rect x="1111" y="226" width="1" height="15" fill="#000"/>
<rect x="1109" y="229" width="5" height="11" fill="#000" />
<rect x="1119" y="228" width="1" height="59" fill="#000"/>
<rect x="1117" y="239" width="5" height="34" fill="#000" />
<rect x="1127" y="255" width="1" height="92" fill="#000"/>
<rect x="1125" y="272" width="5" height="52" fill="#000" />
<rect x="1135" y="304" width="1" height="51" fill="#000"/>
<rect x="1133" y="323" width="5" height="1" fill="#000" />
<rect x="1143" y="323" width="1" height="75" fill="#000"/>
<rect x="1141" y="323" width="5" height="70" fill="#000" />
<rect x="1151" y="335" width="1" height="60" fill="#000"/>
<rect x="1149" y="342" width="5" height="51" fill="#000" />
<rect x="1150" y="343" width="3" height="49" fill="#fff" />
<rect x="1159" y="326" width="1" height="36" fill="#000"/>
<rect x="1157" y="340" width="5" height="20" fill="#000" />
<rect x="1167" y="319" width="1" height="68" fill="#000"/>
<rect x="1165" y="322" width="5" height="38" fill="#000" />
<rect x="1166" y="323" width="3" height="36" fill="#fff" />
<rect x="1175" y="313" width="1" height="65" fill="#000"/>
<rect x="1173" y="322" width="5" height="47" fill="#000" />
<rect x="1183" y="347" width="1" height="68" fill="#000"/>
<rect x="1181" y="368" width="5" height="44" fill="#000" />
<rect x="1191" y="406" width="1" height="79" fill="#000"/>
<rect x="1189" y="411" width="5" height="62" fill="#000" />
<rect x="1199" y="459" width="1" height="30" fill="#000"/>
<rect x="1197" y="472" width="5" height="14" fill="#000" />
<rect x="1207" y="485" width="1" height="45" fill="#000"/>
<rect x="1205" y="485" width="5" height="19" fill="#000" />
<rect x="1215" y="466" width="1" height="38" fill="#000"/>
<rect x="1213" y="473" width="5" height="31" fill="#000" />
<rect x="1214" y="474" width="3" height="29" fill="#fff" />
<rect x="1223" y="444" width="1" height="53" fill="#000"/>
<rect x="1221" y="460" width="5" height="14" fill="#000" />
<rect x="1222" y="461" width="3" height="12" fill="#fff" />
<rect x="1231" y="441" width="1" height="51" fill="#000"/>
<rect x="1229" y="460" width="5" height="1" fill="#000" />
<rect x="1239" y="449" width="1" height="43" fill="#000"/>
<rect x="1237" y="449" width="5" height="12" fill="#000" />
<rect x="1238" y="450" width="3" height="10" fill="#fff" />
<rect x="1247" y="433" width="1" height="33" fill="#000"/>
<rect x="1245" y="448" width="5" height="10" fill="#000" />
<rect x="1255" y="445" width="1" height="17" fill="#000"/>
<rect x="1253" y="451" width="5" height="7" fill="#000" />
<rect x="1254" y="452" width="3" height="5" fill="#fff" />
<rect x="1263" y="378" width="1" height="83" fill="#000"/>
<rect x="1261" y="385" width="5" height="67" fill="#000" />
<rect x="1262" y="386" width="3" height="65" fill="#fff" />
<rect x="1271" y="286" width="1" height="108" fill="#000"/>
<rect x="1269" y="293" width="5" height="93" fill="#000" />
<rect x="1270" y="294" width="3" height="91" fill="#fff" />
<rect x="1279" y="278" width="1" height="97" fill="#000"/>
<rect x="1277" y="293" width="5" height="72" fill="#000" />
<rect x="1287" y="333" width="1" height="57" fill="#000"/>
<rect x="1285" y="353" width="5" height="12" fill="#000" />
<rect x="1286" y="354" width="3" height="10" fill="#fff" />
<rect x="1295" y="322" width="1" height="34" fill="#000"/>
<rect x="1293" y="337" width="5" height="17" fill="#000" />
<rect x="1294" y="338" width="3" height="15" fill="#fff" />
<rect x="1303" y="336" width="1" height="20" fill="#000"/>
<rect x="1301" y="337" width="5" height="9" fill="#000" />
<rect x="1311" y="332" width="1" height="21" fill="#000"/>
<rect x="1309" y="342" width="5" height="4" fill="#000" />
<rect x="1310" y="343" width="3" height="2" fill="#fff" />
<rect x="1319" y="316" width="1" height="31" fill="#000"/>
<rect x="1317" y="331" width="5" height="12" fill="#000" />
<rect x="1318" y="332" width="3" height="10" fill="#fff" />
<rect x="1327" y="292" width="1" height="60" fill="#000"/>
<rect x="1325" y="331" width="5" height="2" fill="#000" />
<rect x="1335" y="314" width="1" height="66" fill="#000"/>
<rect x="1333" y="331" width="5" height="10" fill="#000" />
<rect x="1343" y="326" width="1" height="23" fill="#000"/>
<rect x="1341" y="340" width="5" height="4" fill="#000" />
<rect x="1351" y="307" width="1" height="22" fill="#000"/>
<rect x="1349" y="308" width="5" height="17" fill="#000" />
<rect x="1359" y="309" width="1" height="26" fill="#000"/>
<rect x="1357" y="313" width="5" height="12" fill="#000" />
<rect x="1358" y="314" width="3" height="10" fill="#fff" />
<rect x="1367" y="301" width="1" height="20" fill="#000"/>
<rect x="1365" y="313" width="5" height="2" fill="#000" />
<rect x="1375" y="306" width="1" height="37" fill="#000"/>
<rect x="1373" y="314" width="5" height="24" fill="#000" />
<rect x="1383" y="331" width="1" height="31" fill="#000"/>
<rect x="1381" y="337" width="5" height="9" fill="#000" />
<rect x="1391" y="343" width="1" height="43" fill="#000"/>
<rect x="1389" y="345" width="5" height="22" fill="#000" />
<rect x="1399" y="365" width="1" height="12" fill="#000"/>
<rect x="1397" y="366" width="5" height="2" fill="#000" />
<rect x="1407" y="367" width="1" height="4" fill="#000"/>
<rect x="1405" y="367" width="5" height="1" fill="#000" />
<rect x="104.5" y="247.5" width="61" height="18" fill="#fff" stroke="#ff0000" stroke-width="1"/>
<text x="106.6" y="263" font-size="17.4" fill="#ff0000" textLength="58" lengthAdjust="spacingAndGlyphs">164.640</text>
<rect x="166" y="256" width="10" height="1" fill="#ff0000"/>
<rect x="1208.5" y="269.5" width="61" height="18" fill="#fff" stroke="#ff0000" stroke-width="1"/>
<text x="1210.5" y="285" font-size="17.4" fill="#ff0000" textLength="58" lengthAdjust="spacingAndGlyphs">164.244</text>
<rect x="1270" y="278" width="10" height="1" fill="#ff0000"/>
<rect x="1034.5" y="359.5" width="73" height="24" fill="#fff" stroke="#ff0000" stroke-width="1"/>
<text x="1036.2" y="380" font-size="23.3" fill="#ff0000" textLength="71" lengthAdjust="spacingAndGlyphs">162.516</text>
<rect x="1024" y="371" width="10" height="1" fill="#ff0000"/>
<rect x="1136.5" y="521.5" width="61" height="18" fill="#fff" stroke="#ff0000" stroke-width="1"/>
<text x="1138.5" y="537" font-size="17.4" fill="#ff0000" textLength="58" lengthAdjust="spacingAndGlyphs">159.575</text>
<rect x="1198" y="530" width="10" height="1" fill="#ff0000"/>
<line x1="1217" y1="511" x2="1284.4" y2="312.1" stroke="#ff0000" stroke-width="3"/>
<polygon points="1287.3,303.6 1288.0,315.5 1279.5,312.6" fill="#ff0000"/>
<line x1="1290" y1="295" x2="1391.1" y2="378.3" stroke="#ff0000" stroke-width="3"/>
<polygon points="1398,384 1386.6,380.5 1392.4,373.5" fill="#ff0000"/>
<line x1="1398" y1="384" x2="1427.1" y2="368.3" stroke="#ff0000" stroke-width="3"/>
<polygon points="1435,364 1427.5,373.2 1423.2,365.3" fill="#ff0000"/>
</g>
<polygon points="1411,26 1421.5,26 1416.2,31.2" fill="#b4b4b4"/>
<g clip-path="url(#cMacd)">
<rect x="7" y="592" width="1" height="71" fill="#c0c0c0"/>
<rect x="15" y="588" width="1" height="75" fill="#c0c0c0"/>
<rect x="23" y="587" width="1" height="76" fill="#c0c0c0"/>
<rect x="31" y="592" width="1" height="71" fill="#c0c0c0"/>
<rect x="39" y="594" width="1" height="69" fill="#c0c0c0"/>
<rect x="47" y="597" width="1" height="66" fill="#c0c0c0"/>
<rect x="55" y="600" width="1" height="63" fill="#c0c0c0"/>
<rect x="63" y="603" width="1" height="60" fill="#c0c0c0"/>
<rect x="71" y="604" width="1" height="59" fill="#c0c0c0"/>
<rect x="79" y="605" width="1" height="58" fill="#c0c0c0"/>
<rect x="87" y="604" width="1" height="59" fill="#c0c0c0"/>
<rect x="95" y="603" width="1" height="60" fill="#c0c0c0"/>
<rect x="103" y="602" width="1" height="61" fill="#c0c0c0"/>
<rect x="111" y="606" width="1" height="57" fill="#c0c0c0"/>
<rect x="119" y="609" width="1" height="54" fill="#c0c0c0"/>
<rect x="127" y="612" width="1" height="51" fill="#c0c0c0"/>
<rect x="135" y="614" width="1" height="49" fill="#c0c0c0"/>
<rect x="143" y="616" width="1" height="47" fill="#c0c0c0"/>
<rect x="151" y="617" width="1" height="46" fill="#c0c0c0"/>
<rect x="159" y="615" width="1" height="48" fill="#c0c0c0"/>
<rect x="167" y="610" width="1" height="53" fill="#c0c0c0"/>
<rect x="175" y="607" width="1" height="56" fill="#c0c0c0"/>
<rect x="183" y="611" width="1" height="52" fill="#c0c0c0"/>
<rect x="191" y="612" width="1" height="51" fill="#c0c0c0"/>
<rect x="199" y="614" width="1" height="49" fill="#c0c0c0"/>
<rect x="207" y="618" width="1" height="45" fill="#c0c0c0"/>
<rect x="215" y="621" width="1" height="42" fill="#c0c0c0"/>
<rect x="223" y="621" width="1" height="42" fill="#c0c0c0"/>
<rect x="231" y="627" width="1" height="36" fill="#c0c0c0"/>
<rect x="239" y="632" width="1" height="31" fill="#c0c0c0"/>
<rect x="247" y="636" width="1" height="27" fill="#c0c0c0"/>
<rect x="255" y="646" width="1" height="17" fill="#c0c0c0"/>
<rect x="263" y="652" width="1" height="11" fill="#c0c0c0"/>
<rect x="271" y="657" width="1" height="6" fill="#c0c0c0"/>
<rect x="279" y="659" width="1" height="4" fill="#c0c0c0"/>
<rect x="287" y="662" width="1" height="2" fill="#c0c0c0"/>
<rect x="295" y="662" width="1" height="3" fill="#c0c0c0"/>
<rect x="303" y="662" width="1" height="4" fill="#c0c0c0"/>
<rect x="311" y="662" width="1" height="7" fill="#c0c0c0"/>
<rect x="319" y="662" width="1" height="10" fill="#c0c0c0"/>
<rect x="327" y="662" width="1" height="12" fill="#c0c0c0"/>
<rect x="335" y="662" width="1" height="13" fill="#c0c0c0"/>
<rect x="343" y="662" width="1" height="13" fill="#c0c0c0"/>
<rect x="351" y="662" width="1" height="8" fill="#c0c0c0"/>
<rect x="359" y="662" width="1" height="4" fill="#c0c0c0"/>
<rect x="367" y="662" width="1" height="2" fill="#c0c0c0"/>
<rect x="375" y="662" width="1" height="1" fill="#c0c0c0"/>
<rect x="383" y="661" width="1" height="2" fill="#c0c0c0"/>
<rect x="391" y="660" width="1" height="3" fill="#c0c0c0"/>
<rect x="399" y="659" width="1" height="4" fill="#c0c0c0"/>
<rect x="407" y="657" width="1" height="6" fill="#c0c0c0"/>
<rect x="415" y="657" width="1" height="6" fill="#c0c0c0"/>
<rect x="423" y="656" width="1" height="7" fill="#c0c0c0"/>
<rect x="431" y="656" width="1" height="7" fill="#c0c0c0"/>
<rect x="439" y="655" width="1" height="8" fill="#c0c0c0"/>
<rect x="447" y="656" width="1" height="7" fill="#c0c0c0"/>
<rect x="455" y="654" width="1" height="9" fill="#c0c0c0"/>
<rect x="463" y="652" width="1" height="11" fill="#c0c0c0"/>
<rect x="471" y="650" width="1" height="13" fill="#c0c0c0"/>
<rect x="479" y="648" width="1" height="15" fill="#c0c0c0"/>
<rect x="487" y="647" width="1" height="16" fill="#c0c0c0"/>
<rect x="495" y="646" width="1" height="17" fill="#c0c0c0"/>
<rect x="503" y="644" width="1" height="19" fill="#c0c0c0"/>
<rect x="511" y="643" width="1" height="20" fill="#c0c0c0"/>
<rect x="519" y="643" width="1" height="20" fill="#c0c0c0"/>
<rect x="527" y="643" width="1" height="20" fill="#c0c0c0"/>
<rect x="535" y="644" width="1" height="19" fill="#c0c0c0"/>
<rect x="543" y="645" width="1" height="18" fill="#c0c0c0"/>
<rect x="551" y="644" width="1" height="19" fill="#c0c0c0"/>
<rect x="559" y="644" width="1" height="19" fill="#c0c0c0"/>
<rect x="567" y="646" width="1" height="17" fill="#c0c0c0"/>
<rect x="575" y="646" width="1" height="17" fill="#c0c0c0"/>
<rect x="583" y="645" width="1" height="18" fill="#c0c0c0"/>
<rect x="591" y="646" width="1" height="17" fill="#c0c0c0"/>
<rect x="599" y="647" width="1" height="16" fill="#c0c0c0"/>
<rect x="607" y="649" width="1" height="14" fill="#c0c0c0"/>
<rect x="615" y="649" width="1" height="14" fill="#c0c0c0"/>
<rect x="623" y="649" width="1" height="14" fill="#c0c0c0"/>
<rect x="631" y="649" width="1" height="14" fill="#c0c0c0"/>
<rect x="639" y="648" width="1" height="15" fill="#c0c0c0"/>
<rect x="647" y="644" width="1" height="19" fill="#c0c0c0"/>
<rect x="655" y="638" width="1" height="25" fill="#c0c0c0"/>
<rect x="663" y="635" width="1" height="28" fill="#c0c0c0"/>
<rect x="671" y="634" width="1" height="29" fill="#c0c0c0"/>
<rect x="679" y="633" width="1" height="30" fill="#c0c0c0"/>
<rect x="687" y="633" width="1" height="30" fill="#c0c0c0"/>
<rect x="695" y="633" width="1" height="30" fill="#c0c0c0"/>
<rect x="703" y="633" width="1" height="30" fill="#c0c0c0"/>
<rect x="711" y="635" width="1" height="28" fill="#c0c0c0"/>
<rect x="719" y="637" width="1" height="26" fill="#c0c0c0"/>
<rect x="727" y="639" width="1" height="24" fill="#c0c0c0"/>
<rect x="735" y="640" width="1" height="23" fill="#c0c0c0"/>
<rect x="743" y="638" width="1" height="25" fill="#c0c0c0"/>
<rect x="751" y="638" width="1" height="25" fill="#c0c0c0"/>
<rect x="759" y="637" width="1" height="26" fill="#c0c0c0"/>
<rect x="767" y="632" width="1" height="31" fill="#c0c0c0"/>
<rect x="775" y="631" width="1" height="32" fill="#c0c0c0"/>
<rect x="783" y="630" width="1" height="33" fill="#c0c0c0"/>
<rect x="791" y="629" width="1" height="34" fill="#c0c0c0"/>
<rect x="799" y="630" width="1" height="33" fill="#c0c0c0"/>
<rect x="807" y="631" width="1" height="32" fill="#c0c0c0"/>
<rect x="815" y="630" width="1" height="33" fill="#c0c0c0"/>
<rect x="823" y="630" width="1" height="33" fill="#c0c0c0"/>
<rect x="831" y="628" width="1" height="35" fill="#c0c0c0"/>
<rect x="839" y="627" width="1" height="36" fill="#c0c0c0"/>
<rect x="847" y="626" width="1" height="37" fill="#c0c0c0"/>
<rect x="855" y="628" width="1" height="35" fill="#c0c0c0"/>
<rect x="863" y="629" width="1" height="34" fill="#c0c0c0"/>
<rect x="871" y="629" width="1" height="34" fill="#c0c0c0"/>
<rect x="879" y="630" width="1" height="33" fill="#c0c0c0"/>
<rect x="887" y="633" width="1" height="30" fill="#c0c0c0"/>
<rect x="895" y="635" width="1" height="28" fill="#c0c0c0"/>
<rect x="903" y="636" width="1" height="27" fill="#c0c0c0"/>
<rect x="911" y="637" width="1" height="26" fill="#c0c0c0"/>
<rect x="919" y="636" width="1" height="27" fill="#c0c0c0"/>
<rect x="927" y="632" width="1" height="31" fill="#c0c0c0"/>
<rect x="935" y="628" width="1" height="35" fill="#c0c0c0"/>
<rect x="943" y="624" width="1" height="39" fill="#c0c0c0"/>
<rect x="951" y="620" width="1" height="43" fill="#c0c0c0"/>
<rect x="959" y="616" width="1" height="47" fill="#c0c0c0"/>
<rect x="967" y="610" width="1" height="53" fill="#c0c0c0"/>
<rect x="975" y="610" width="1" height="53" fill="#c0c0c0"/>
<rect x="983" y="611" width="1" height="52" fill="#c0c0c0"/>
<rect x="991" y="614" width="1" height="49" fill="#c0c0c0"/>
<rect x="999" y="617" width="1" height="46" fill="#c0c0c0"/>
<rect x="1007" y="620" width="1" height="43" fill="#c0c0c0"/>
<rect x="1015" y="621" width="1" height="42" fill="#c0c0c0"/>
<rect x="1023" y="622" width="1" height="41" fill="#c0c0c0"/>
<rect x="1031" y="623" width="1" height="40" fill="#c0c0c0"/>
<rect x="1039" y="625" width="1" height="38" fill="#c0c0c0"/>
<rect x="1047" y="625" width="1" height="38" fill="#c0c0c0"/>
<rect x="1055" y="627" width="1" height="36" fill="#c0c0c0"/>
<rect x="1063" y="629" width="1" height="34" fill="#c0c0c0"/>
<rect x="1071" y="631" width="1" height="32" fill="#c0c0c0"/>
<rect x="1079" y="642" width="1" height="21" fill="#c0c0c0"/>
<rect x="1087" y="649" width="1" height="14" fill="#c0c0c0"/>
<rect x="1095" y="656" width="1" height="7" fill="#c0c0c0"/>
<rect x="1103" y="662" width="1" height="2" fill="#c0c0c0"/>
<rect x="1111" y="662" width="1" height="8" fill="#c0c0c0"/>
<rect x="1119" y="662" width="1" height="15" fill="#c0c0c0"/>
<rect x="1127" y="662" width="1" height="24" fill="#c0c0c0"/>
<rect x="1135" y="662" width="1" height="31" fill="#c0c0c0"/>
<rect x="1143" y="662" width="1" height="42" fill="#c0c0c0"/>
<rect x="1151" y="662" width="1" height="46" fill="#c0c0c0"/>
<rect x="1159" y="662" width="1" height="50" fill="#c0c0c0"/>
<rect x="1167" y="662" width="1" height="49" fill="#c0c0c0"/>
<rect x="1175" y="662" width="1" height="52" fill="#c0c0c0"/>
<rect x="1183" y="662" width="1" height="57" fill="#c0c0c0"/>
<rect x="1191" y="662" width="1" height="66" fill="#c0c0c0"/>
<rect x="1199" y="662" width="1" height="73" fill="#c0c0c0"/>
<rect x="1207" y="662" width="1" height="79" fill="#c0c0c0"/>
<rect x="1215" y="662" width="1" height="80" fill="#c0c0c0"/>
<rect x="1223" y="662" width="1" height="79" fill="#c0c0c0"/>
<rect x="1231" y="662" width="1" height="78" fill="#c0c0c0"/>
<rect x="1239" y="662" width="1" height="75" fill="#c0c0c0"/>
<rect x="1247" y="662" width="1" height="72" fill="#c0c0c0"/>
<rect x="1255" y="662" width="1" height="69" fill="#c0c0c0"/>
<rect x="1263" y="662" width="1" height="60" fill="#c0c0c0"/>
<rect x="1271" y="662" width="1" height="45" fill="#c0c0c0"/>
<rect x="1279" y="662" width="1" height="39" fill="#c0c0c0"/>
<rect x="1287" y="662" width="1" height="32" fill="#c0c0c0"/>
<rect x="1295" y="662" width="1" height="26" fill="#c0c0c0"/>
<rect x="1303" y="662" width="1" height="21" fill="#c0c0c0"/>
<rect x="1311" y="662" width="1" height="16" fill="#c0c0c0"/>
<rect x="1319" y="662" width="1" height="12" fill="#c0c0c0"/>
<rect x="1327" y="662" width="1" height="9" fill="#c0c0c0"/>
<rect x="1335" y="662" width="1" height="6" fill="#c0c0c0"/>
<rect x="1343" y="662" width="1" height="5" fill="#c0c0c0"/>
<rect x="1351" y="662" width="1" height="2" fill="#c0c0c0"/>
<rect x="1359" y="660" width="1" height="3" fill="#c0c0c0"/>
<rect x="1367" y="658" width="1" height="5" fill="#c0c0c0"/>
<rect x="1375" y="658" width="1" height="5" fill="#c0c0c0"/>
<rect x="1383" y="659" width="1" height="4" fill="#c0c0c0"/>
<rect x="1391" y="661" width="1" height="2" fill="#c0c0c0"/>
<rect x="1399" y="662" width="1" height="2" fill="#c0c0c0"/>
<rect x="1407" y="662" width="1" height="3" fill="#c0c0c0"/>
<polyline fill="none" stroke="#ff0000" stroke-width="1" shape-rendering="crispEdges" stroke-dasharray="3,3" points="3.5,615 16.5,607.5 30.5,601.5 46.5,595.5 56.5,593.9 70.5,593.9 79.5,597.2 87.5,599 95.5,600.8 103.5,601.9 111.5,603.2 119.5,604.5 127.5,605.9 135.5,607.2 143.5,608.5 151.5,609.9 159.5,611.1 167.5,611.8 175.5,612.4 183.5,613 191.5,613.3 199.5,613.4 207.5,613.9 215.5,614.5 223.5,614.9 231.5,616.2 239.5,618.8 247.5,622 255.5,625.9 263.5,630.4 271.5,635.2 279.5,639.7 287.5,644.4 295.5,649.2 303.5,653.4 311.5,657.3 319.5,661.3 327.5,664.3 335.5,666.6 343.5,668.5 351.5,669.6 359.5,669.9 367.5,669.8 375.5,669.5 383.5,668.8 391.5,667.6 399.5,665.9 407.5,664.1 415.5,662.2 423.5,660.9 431.5,659.8 439.5,658.9 447.5,658.2 455.5,657.5 463.5,656.6 471.5,655.6 479.5,654.6 487.5,653.5 495.5,652.2 503.5,651 511.5,649.6 519.5,648.1 527.5,646.8 535.5,645.9 543.5,645.4 551.5,645 559.5,644.6 567.5,644.7 575.5,644.8 583.5,645.1 591.5,645.4 599.5,645.9 607.5,646.4 615.5,646.9 623.5,647.4 631.5,648 639.5,648.2 647.5,648 655.5,647.2 663.5,645.9 671.5,644.4 679.5,642.7 687.5,640.9 695.5,639.1 703.5,637.4 711.5,636 719.5,635.3 727.5,635.4 735.5,636 743.5,636.5 751.5,637.1 759.5,637.5 767.5,637.4 775.5,637.1 783.5,636.5 791.5,635.6 799.5,634.5 807.5,633.5 815.5,632.6 823.5,631.6 831.5,630.7 839.5,630.1 847.5,629.6 855.5,629.4 863.5,629.3 871.5,629.2 879.5,629.2 887.5,629.5 895.5,630.1 903.5,630.9 911.5,632 919.5,633.1 927.5,633.6 935.5,633.5 943.5,633 951.5,631.9 959.5,630 967.5,627.3 975.5,624.4 983.5,621.5 991.5,619 999.5,617.3 1007.5,616.4 1015.5,616.1 1023.5,616.3 1031.5,617 1039.5,618.7 1047.5,620.4 1055.5,622.3 1063.5,624 1071.5,625.6 1079.5,628 1087.5,631.1 1095.5,634.9 1103.5,639.4 1111.5,644.2 1119.5,649.8 1127.5,656.2 1135.5,663.2 1143.5,671.2 1151.5,678.4 1159.5,685.3 1167.5,691.4 1175.5,696.9 1183.5,702.5 1191.5,708.2 1199.5,713.6 1207.5,718.9 1215.5,723.1 1223.5,726.8 1231.5,729.9 1239.5,732.7 1247.5,734.9 1255.5,736.2 1263.5,735.6 1271.5,732.5 1279.5,728 1287.5,722.7 1295.5,716.8 1303.5,710.4 1311.5,704 1319.5,697.3 1327.5,690.6 1335.5,684.6 1343.5,680.1 1351.5,676 1359.5,672.3 1367.5,669.1 1375.5,666.5 1383.5,664.4 1391.5,663 1399.5,662.3 1407.5,661.9"/>
<line x1="1247" y1="735" x2="1324.1" y2="670.8" stroke="#ff0000" stroke-width="3"/>
<polygon points="1331,665 1325.4,675.5 1319.7,668.6" fill="#ff0000"/>
<line x1="1331" y1="664.5" x2="1430.0" y2="660.8" stroke="#ff0000" stroke-width="3"/>
<polygon points="1439,660.5 1428.2,665.4 1427.8,656.4" fill="#ff0000"/>
</g>
<g clip-path="url(#cRsi)">
<line x1="0" y1="788.5" x2="1650" y2="788.5" stroke="#c0c0c0" stroke-width="1" stroke-dasharray="3,3" stroke-dashoffset="2"/>
<line x1="0" y1="839.5" x2="1650" y2="839.5" stroke="#c0c0c0" stroke-width="1" stroke-dasharray="3,3" stroke-dashoffset="2"/>
<line x1="0" y1="900.5" x2="1650" y2="900.5" stroke="#c0c0c0" stroke-width="1" stroke-dasharray="3,3" stroke-dashoffset="2"/>
<polyline fill="none" stroke="#1e90ff" stroke-width="1" shape-rendering="crispEdges" points="-0.5,778.1 7.5,774.5 15.5,777.9 23.5,787.5 31.5,812.9 39.5,809 47.5,808 55.5,809.4 63.5,809.4 71.5,804.5 79.5,802.5 87.5,798.6 95.5,794.4 103.5,793.5 111.5,816.3 119.5,816.1 127.5,817 135.5,811.7 143.5,810.5 151.5,809.9 159.5,799.6 167.5,790.7 175.5,796.7 183.5,825.2 191.5,816.5 199.5,821.1 207.5,830.7 215.5,825.1 223.5,819.9 231.5,839.2 239.5,839.2 247.5,835.5 255.5,856.1 263.5,849.2 271.5,846.6 279.5,844.4 287.5,848.8 295.5,844.4 303.5,842.3 311.5,850.8 319.5,852.3 327.5,852.3 335.5,847.8 343.5,845.6 351.5,830.1 359.5,832.3 367.5,834.9 375.5,835.2 383.5,835.9 391.5,836.3 399.5,831.4 407.5,830.4 415.5,836 423.5,832.6 431.5,831.4 439.5,831.4 447.5,840.8 455.5,826.3 463.5,823.8 471.5,818.2 479.5,821.4 487.5,820.4 495.5,818.9 503.5,817 511.5,812.6 519.5,821.8 527.5,821.8 535.5,827.1 543.5,824.7 551.5,819.2 559.5,816.1 567.5,833 575.5,823.8 583.5,820.5 591.5,826.9 599.5,834.7 607.5,833.1 615.5,828.6 623.5,824.2 631.5,826.3 639.5,816.2 647.5,804 655.5,795.7 663.5,802.2 671.5,812.7 679.5,811.2 687.5,813.1 695.5,812.4 703.5,812.4 711.5,819.7 719.5,828.4 727.5,825 735.5,819.6 743.5,808.7 751.5,818.7 759.5,809.3 767.5,800 775.5,808.9 783.5,808.9 791.5,807.5 799.5,812.6 807.5,815.2 815.5,808.9 823.5,806.4 831.5,802.6 839.5,799 847.5,802.8 855.5,814.2 863.5,811 871.5,807.3 879.5,817.7 887.5,826.5 895.5,821.1 903.5,819.9 911.5,817.8 919.5,812.3 927.5,797.3 935.5,793.7 943.5,791.6 951.5,788.1 959.5,785.2 967.5,780 975.5,807.4 983.5,809.7 991.5,818.8 999.5,821.9 1007.5,821.3 1015.5,814.8 1023.5,812.9 1031.5,812.9 1039.5,820.5 1047.5,810.9 1055.5,826.1 1063.5,823.6 1071.5,824.6 1079.5,859.2 1087.5,855.3 1095.5,856.1 1103.5,863.6 1111.5,861.6 1119.5,869 1127.5,878.1 1135.5,878.1 1143.5,887.8 1151.5,869.7 1159.5,872.4 1167.5,860.6 1175.5,868.3 1183.5,874.4 1191.5,881.6 1199.5,883 1207.5,884.9 1215.5,875.3 1223.5,871.3 1231.5,871.3 1239.5,867.6 1247.5,869 1255.5,866.8 1263.5,846.1 1271.5,826.2 1279.5,841.5 1287.5,839.3 1295.5,836.1 1303.5,837.9 1311.5,837.3 1319.5,834.7 1327.5,835 1335.5,837.3 1343.5,838.2 1351.5,832.8 1359.5,829.9 1367.5,830.2 1375.5,838.3 1383.5,841 1391.5,847.7 1399.5,848.1 1407.5,848.1"/>
<line x1="1277" y1="829" x2="1404.0" y2="840.2" stroke="#ff0000" stroke-width="3"/>
<polygon points="1413,841 1401.6,844.5 1402.4,835.6" fill="#ff0000"/>
</g>
<rect x="0" y="25" width="1651" height="1" fill="#000"/>
<rect x="0" y="574" width="1651" height="1" fill="#000"/>
<rect x="0" y="576" width="1651" height="1" fill="#000"/>
<rect x="0" y="750" width="1651" height="1" fill="#000"/>
<rect x="0" y="752" width="1651" height="1" fill="#000"/>
<rect x="0" y="926" width="1651" height="1" fill="#000"/>
<rect x="1650" y="25" width="1" height="902" fill="#000"/>
<rect x="0" y="36" width="1" height="1" fill="#000" />
<text x="6" y="37" font-size="10.2" fill="#000" textLength="199.8" lengthAdjust="spacingAndGlyphs">GBPJPY-,H4  162.596 162.604 162.529 162.599</text>
<text x="-4" y="588" font-size="10.2" fill="#000" textLength="130" lengthAdjust="spacingAndGlyphs">MACD(12,26,9) -0.0427 0.0157</text>
<text x="-6" y="765" font-size="10.2" fill="#000" textLength="70" lengthAdjust="spacingAndGlyphs">RSI(14) 45.4357</text>
<rect x="1651" y="43" width="2" height="1" fill="#000"/>
<text x="1656.5" y="47" font-size="10.2" fill="#000" textLength="32.5" lengthAdjust="spacingAndGlyphs">168.590</text>
<rect x="1651" y="76" width="2" height="1" fill="#000"/>
<text x="1656.5" y="80" font-size="10.2" fill="#000" textLength="32.5" lengthAdjust="spacingAndGlyphs">167.975</text>
<rect x="1651" y="109" width="2" height="1" fill="#000"/>
<text x="1656.5" y="113" font-size="10.2" fill="#000" textLength="32.5" lengthAdjust="spacingAndGlyphs">167.360</text>
<rect x="1651" y="142" width="2" height="1" fill="#000"/>
<text x="1656.5" y="146" font-size="10.2" fill="#000" textLength="32.5" lengthAdjust="spacingAndGlyphs">166.760</text>
<rect x="1651" y="175" width="2" height="1" fill="#000"/>
<text x="1656.5" y="179" font-size="10.2" fill="#000" textLength="32.5" lengthAdjust="spacingAndGlyphs">166.145</text>
<rect x="1651" y="208" width="2" height="1" fill="#000"/>
<text x="1656.5" y="212" font-size="10.2" fill="#000" textLength="32.5" lengthAdjust="spacingAndGlyphs">165.530</text>
<rect x="1651" y="241" width="2" height="1" fill="#000"/>
<text x="1656.5" y="245" font-size="10.2" fill="#000" textLength="32.5" lengthAdjust="spacingAndGlyphs">164.930</text>
<rect x="1651" y="274" width="2" height="1" fill="#000"/>
<text x="1656.5" y="278" font-size="10.2" fill="#000" textLength="32.5" lengthAdjust="spacingAndGlyphs">164.315</text>
<rect x="1651" y="307" width="2" height="1" fill="#000"/>
<text x="1656.5" y="311" font-size="10.2" fill="#000" textLength="32.5" lengthAdjust="spacingAndGlyphs">163.700</text>
<rect x="1651" y="340" width="2" height="1" fill="#000"/>
<text x="1656.5" y="344" font-size="10.2" fill="#000" textLength="32.5" lengthAdjust="spacingAndGlyphs">163.100</text>
<rect x="1651" y="373" width="2" height="1" fill="#000"/>
<text x="1656.5" y="377" font-size="10.2" fill="#000" textLength="32.5" lengthAdjust="spacingAndGlyphs">162.485</text>
<rect x="1651" y="406" width="2" height="1" fill="#000"/>
<text x="1656.5" y="410" font-size="10.2" fill="#000" textLength="32.5" lengthAdjust="spacingAndGlyphs">161.870</text>
<rect x="1651" y="439" width="2" height="1" fill="#000"/>
<text x="1656.5" y="443" font-size="10.2" fill="#000" textLength="32.5" lengthAdjust="spacingAndGlyphs">161.270</text>
<rect x="1651" y="472" width="2" height="1" fill="#000"/>
<text x="1656.5" y="476" font-size="10.2" fill="#000" textLength="32.5" lengthAdjust="spacingAndGlyphs">160.655</text>
<rect x="1651" y="505" width="2" height="1" fill="#000"/>
<text x="1656.5" y="509" font-size="10.2" fill="#000" textLength="32.5" lengthAdjust="spacingAndGlyphs">160.040</text>
<rect x="1651" y="538" width="2" height="1" fill="#000"/>
<text x="1656.5" y="542" font-size="10.2" fill="#000" textLength="32.5" lengthAdjust="spacingAndGlyphs">159.440</text>
<rect x="1651" y="571" width="2" height="1" fill="#000"/>
<text x="1656.5" y="575" font-size="10.2" fill="#000" textLength="32.5" lengthAdjust="spacingAndGlyphs">158.825</text>
<rect x="1652" y="252" width="41" height="11" fill="#ff0000" />
<text x="1656.5" y="261" font-size="10.2" fill="#fff" textLength="32.5" lengthAdjust="spacingAndGlyphs">164.610</text>
<rect x="1652" y="297" width="41" height="11" fill="#ff0000" />
<text x="1656.5" y="306" font-size="10.2" fill="#fff" textLength="32.5" lengthAdjust="spacingAndGlyphs">163.782</text>
<rect x="1652" y="362" width="41" height="11" fill="#000" />
<text x="1656.5" y="371" font-size="10.2" fill="#fff" textLength="32.5" lengthAdjust="spacingAndGlyphs">162.599</text>
<rect x="1652" y="365" width="41" height="11" fill="#32cd32" />
<text x="1656.5" y="374" font-size="10.2" fill="#fff" textLength="32.5" lengthAdjust="spacingAndGlyphs">162.516</text>
<rect x="1652" y="413" width="41" height="11" fill="#0000ff" />
<text x="1656.5" y="422" font-size="10.2" fill="#fff" textLength="32.5" lengthAdjust="spacingAndGlyphs">161.640</text>
<rect x="1652" y="460" width="41" height="11" fill="#0000ff" />
<text x="1656.5" y="469" font-size="10.2" fill="#fff" textLength="32.5" lengthAdjust="spacingAndGlyphs">160.763</text>
<rect x="1651" y="578" width="1" height="1" fill="#000"/>
<text x="1654.5" y="587" font-size="10.2" fill="#000" textLength="27.5" lengthAdjust="spacingAndGlyphs">1.5224</text>
<rect x="1651" y="662" width="1" height="1" fill="#000"/>
<text x="1654.5" y="666" font-size="10.2" fill="#000" textLength="18" lengthAdjust="spacingAndGlyphs">0.00</text>
<rect x="1651" y="749" width="1" height="1" fill="#000"/>
<text x="1654" y="747" font-size="10.2" fill="#000" textLength="31" lengthAdjust="spacingAndGlyphs">-1.5713</text>
<rect x="1651" y="754" width="1" height="1" fill="#000"/>
<text x="1654.5" y="763" font-size="10.2" fill="#000" textLength="14.5" lengthAdjust="spacingAndGlyphs">100</text>
<text x="1653.5" y="792" font-size="10.2" fill="#000" textLength="10" lengthAdjust="spacingAndGlyphs">80</text>
<text x="1653.5" y="843" font-size="10.2" fill="#000" textLength="10" lengthAdjust="spacingAndGlyphs">50</text>
<text x="1653.5" y="904" font-size="10.2" fill="#000" textLength="10" lengthAdjust="spacingAndGlyphs">15</text>
<text x="1654.5" y="923" font-size="10.2" fill="#000" textLength="5" lengthAdjust="spacingAndGlyphs">0</text>
<text x="3" y="939" font-size="10.2" fill="#000" textLength="39" lengthAdjust="spacingAndGlyphs">Mar 2022</text>
<rect x="55" y="927" width="1" height="3" fill="#000"/>
<text x="54" y="939" font-size="10.2" fill="#000" textLength="54.2" lengthAdjust="spacingAndGlyphs">23 Mar 20:00</text>
<rect x="119" y="927" width="1" height="3" fill="#000"/>
<text x="118" y="939" font-size="10.2" fill="#000" textLength="54.2" lengthAdjust="spacingAndGlyphs">25 Mar 04:00</text>
<rect x="183" y="927" width="1" height="3" fill="#000"/>
<text x="182" y="939" font-size="10.2" fill="#000" textLength="54.2" lengthAdjust="spacingAndGlyphs">28 Mar 12:00</text>
<rect x="247" y="927" width="1" height="3" fill="#000"/>
<text x="246" y="939" font-size="10.2" fill="#000" textLength="54.2" lengthAdjust="spacingAndGlyphs">29 Mar 20:00</text>
<rect x="311" y="927" width="1" height="3" fill="#000"/>
<text x="310" y="939" font-size="10.2" fill="#000" textLength="54.2" lengthAdjust="spacingAndGlyphs">31 Mar 04:00</text>
<rect x="375" y="927" width="1" height="3" fill="#000"/>
<text x="374" y="939" font-size="10.2" fill="#000" textLength="48.5" lengthAdjust="spacingAndGlyphs">1 Apr 12:00</text>
<rect x="439" y="927" width="1" height="3" fill="#000"/>
<text x="438" y="939" font-size="10.2" fill="#000" textLength="48.5" lengthAdjust="spacingAndGlyphs">4 Apr 20:00</text>
<rect x="503" y="927" width="1" height="3" fill="#000"/>
<text x="502" y="939" font-size="10.2" fill="#000" textLength="48.5" lengthAdjust="spacingAndGlyphs">6 Apr 04:00</text>
<rect x="567" y="927" width="1" height="3" fill="#000"/>
<text x="566" y="939" font-size="10.2" fill="#000" textLength="48.5" lengthAdjust="spacingAndGlyphs">7 Apr 12:00</text>
<rect x="631" y="927" width="1" height="3" fill="#000"/>
<text x="630" y="939" font-size="10.2" fill="#000" textLength="54.2" lengthAdjust="spacingAndGlyphs">10 Apr 23:00</text>
<rect x="695" y="927" width="1" height="3" fill="#000"/>
<text x="694" y="939" font-size="10.2" fill="#000" textLength="54.2" lengthAdjust="spacingAndGlyphs">12 Apr 04:00</text>
<rect x="759" y="927" width="1" height="3" fill="#000"/>
<text x="758" y="939" font-size="10.2" fill="#000" textLength="54.2" lengthAdjust="spacingAndGlyphs">13 Apr 12:00</text>
<rect x="823" y="927" width="1" height="3" fill="#000"/>
<text x="822" y="939" font-size="10.2" fill="#000" textLength="54.2" lengthAdjust="spacingAndGlyphs">14 Apr 20:00</text>
<rect x="887" y="927" width="1" height="3" fill="#000"/>
<text x="886" y="939" font-size="10.2" fill="#000" textLength="54.2" lengthAdjust="spacingAndGlyphs">18 Apr 04:00</text>
<rect x="951" y="927" width="1" height="3" fill="#000"/>
<text x="950" y="939" font-size="10.2" fill="#000" textLength="54.2" lengthAdjust="spacingAndGlyphs">19 Apr 12:00</text>
<rect x="1015" y="927" width="1" height="3" fill="#000"/>
<text x="1014" y="939" font-size="10.2" fill="#000" textLength="54.2" lengthAdjust="spacingAndGlyphs">20 Apr 20:00</text>
<rect x="1079" y="927" width="1" height="3" fill="#000"/>
<text x="1078" y="939" font-size="10.2" fill="#000" textLength="54.2" lengthAdjust="spacingAndGlyphs">22 Apr 04:00</text>
<rect x="1143" y="927" width="1" height="3" fill="#000"/>
<text x="1142" y="939" font-size="10.2" fill="#000" textLength="54.2" lengthAdjust="spacingAndGlyphs">25 Apr 12:00</text>
<rect x="1207" y="927" width="1" height="3" fill="#000"/>
<text x="1206" y="939" font-size="10.2" fill="#000" textLength="54.2" lengthAdjust="spacingAndGlyphs">26 Apr 20:00</text>
<rect x="1271" y="927" width="1" height="3" fill="#000"/>
<text x="1270" y="939" font-size="10.2" fill="#000" textLength="54.2" lengthAdjust="spacingAndGlyphs">28 Apr 04:00</text>
<rect x="1335" y="927" width="1" height="3" fill="#000"/>
<text x="1334" y="939" font-size="10.2" fill="#000" textLength="54.2" lengthAdjust="spacingAndGlyphs">29 Apr 12:00</text>
<rect x="1399" y="927" width="1" height="3" fill="#000"/>
<text x="1398" y="939" font-size="10.2" fill="#000" textLength="52" lengthAdjust="spacingAndGlyphs">2 May 20:00</text>
</svg>
</body></html>
